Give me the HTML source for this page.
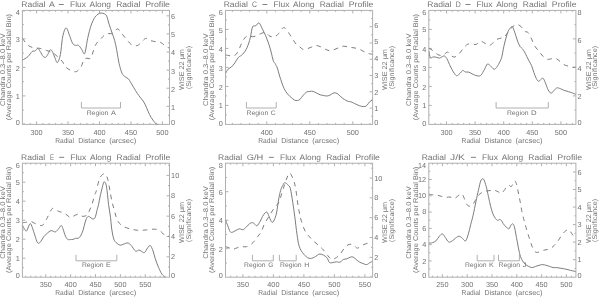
<!DOCTYPE html>
<html><head><meta charset="utf-8"><title>Radial Profiles</title>
<style>html,body{margin:0;padding:0;background:#fff;width:600px;height:297px;overflow:hidden}
text{font-family:"Liberation Sans",sans-serif;text-rendering:geometricPrecision}
svg{will-change:transform;transform:translateZ(0)}</style></head>
<body>
<svg width="600" height="297" viewBox="0 0 600 297" style="display:block;font-family:'Liberation Sans', sans-serif">
<rect width="600" height="297" fill="#fff"/>
<rect x="22.4" y="10.4" width="147.1" height="114" fill="none" stroke="#b0b0b0" stroke-width="1"/>
<line x1="24.02" y1="124.4" x2="24.02" y2="122.9" stroke="#b0b0b0" stroke-width="1"/>
<line x1="24.02" y1="10.4" x2="24.02" y2="11.9" stroke="#b0b0b0" stroke-width="1"/>
<line x1="30.31" y1="124.4" x2="30.31" y2="122.9" stroke="#b0b0b0" stroke-width="1"/>
<line x1="30.31" y1="10.4" x2="30.31" y2="11.9" stroke="#b0b0b0" stroke-width="1"/>
<line x1="36.6" y1="124.4" x2="36.6" y2="121.4" stroke="#b0b0b0" stroke-width="1"/>
<line x1="36.6" y1="10.4" x2="36.6" y2="13.4" stroke="#b0b0b0" stroke-width="1"/>
<line x1="42.89" y1="124.4" x2="42.89" y2="122.9" stroke="#b0b0b0" stroke-width="1"/>
<line x1="42.89" y1="10.4" x2="42.89" y2="11.9" stroke="#b0b0b0" stroke-width="1"/>
<line x1="49.18" y1="124.4" x2="49.18" y2="122.9" stroke="#b0b0b0" stroke-width="1"/>
<line x1="49.18" y1="10.4" x2="49.18" y2="11.9" stroke="#b0b0b0" stroke-width="1"/>
<line x1="55.47" y1="124.4" x2="55.47" y2="122.9" stroke="#b0b0b0" stroke-width="1"/>
<line x1="55.47" y1="10.4" x2="55.47" y2="11.9" stroke="#b0b0b0" stroke-width="1"/>
<line x1="61.76" y1="124.4" x2="61.76" y2="122.9" stroke="#b0b0b0" stroke-width="1"/>
<line x1="61.76" y1="10.4" x2="61.76" y2="11.9" stroke="#b0b0b0" stroke-width="1"/>
<line x1="68.05" y1="124.4" x2="68.05" y2="121.4" stroke="#b0b0b0" stroke-width="1"/>
<line x1="68.05" y1="10.4" x2="68.05" y2="13.4" stroke="#b0b0b0" stroke-width="1"/>
<line x1="74.34" y1="124.4" x2="74.34" y2="122.9" stroke="#b0b0b0" stroke-width="1"/>
<line x1="74.34" y1="10.4" x2="74.34" y2="11.9" stroke="#b0b0b0" stroke-width="1"/>
<line x1="80.63" y1="124.4" x2="80.63" y2="122.9" stroke="#b0b0b0" stroke-width="1"/>
<line x1="80.63" y1="10.4" x2="80.63" y2="11.9" stroke="#b0b0b0" stroke-width="1"/>
<line x1="86.92" y1="124.4" x2="86.92" y2="122.9" stroke="#b0b0b0" stroke-width="1"/>
<line x1="86.92" y1="10.4" x2="86.92" y2="11.9" stroke="#b0b0b0" stroke-width="1"/>
<line x1="93.21" y1="124.4" x2="93.21" y2="122.9" stroke="#b0b0b0" stroke-width="1"/>
<line x1="93.21" y1="10.4" x2="93.21" y2="11.9" stroke="#b0b0b0" stroke-width="1"/>
<line x1="99.5" y1="124.4" x2="99.5" y2="121.4" stroke="#b0b0b0" stroke-width="1"/>
<line x1="99.5" y1="10.4" x2="99.5" y2="13.4" stroke="#b0b0b0" stroke-width="1"/>
<line x1="105.79" y1="124.4" x2="105.79" y2="122.9" stroke="#b0b0b0" stroke-width="1"/>
<line x1="105.79" y1="10.4" x2="105.79" y2="11.9" stroke="#b0b0b0" stroke-width="1"/>
<line x1="112.08" y1="124.4" x2="112.08" y2="122.9" stroke="#b0b0b0" stroke-width="1"/>
<line x1="112.08" y1="10.4" x2="112.08" y2="11.9" stroke="#b0b0b0" stroke-width="1"/>
<line x1="118.37" y1="124.4" x2="118.37" y2="122.9" stroke="#b0b0b0" stroke-width="1"/>
<line x1="118.37" y1="10.4" x2="118.37" y2="11.9" stroke="#b0b0b0" stroke-width="1"/>
<line x1="124.66" y1="124.4" x2="124.66" y2="122.9" stroke="#b0b0b0" stroke-width="1"/>
<line x1="124.66" y1="10.4" x2="124.66" y2="11.9" stroke="#b0b0b0" stroke-width="1"/>
<line x1="130.95" y1="124.4" x2="130.95" y2="121.4" stroke="#b0b0b0" stroke-width="1"/>
<line x1="130.95" y1="10.4" x2="130.95" y2="13.4" stroke="#b0b0b0" stroke-width="1"/>
<line x1="137.24" y1="124.4" x2="137.24" y2="122.9" stroke="#b0b0b0" stroke-width="1"/>
<line x1="137.24" y1="10.4" x2="137.24" y2="11.9" stroke="#b0b0b0" stroke-width="1"/>
<line x1="143.53" y1="124.4" x2="143.53" y2="122.9" stroke="#b0b0b0" stroke-width="1"/>
<line x1="143.53" y1="10.4" x2="143.53" y2="11.9" stroke="#b0b0b0" stroke-width="1"/>
<line x1="149.82" y1="124.4" x2="149.82" y2="122.9" stroke="#b0b0b0" stroke-width="1"/>
<line x1="149.82" y1="10.4" x2="149.82" y2="11.9" stroke="#b0b0b0" stroke-width="1"/>
<line x1="156.11" y1="124.4" x2="156.11" y2="122.9" stroke="#b0b0b0" stroke-width="1"/>
<line x1="156.11" y1="10.4" x2="156.11" y2="11.9" stroke="#b0b0b0" stroke-width="1"/>
<line x1="162.4" y1="124.4" x2="162.4" y2="121.4" stroke="#b0b0b0" stroke-width="1"/>
<line x1="162.4" y1="10.4" x2="162.4" y2="13.4" stroke="#b0b0b0" stroke-width="1"/>
<text x="36.6" y="134.9" font-size="7.3" fill="#737373" text-anchor="middle">300</text>
<text x="68.05" y="134.9" font-size="7.3" fill="#737373" text-anchor="middle">350</text>
<text x="99.5" y="134.9" font-size="7.3" fill="#737373" text-anchor="middle">400</text>
<text x="130.95" y="134.9" font-size="7.3" fill="#737373" text-anchor="middle">450</text>
<text x="162.4" y="134.9" font-size="7.3" fill="#737373" text-anchor="middle">500</text>
<text x="19.8" y="15" font-size="7.3" fill="#737373" text-anchor="end">4</text>
<text x="19.8" y="42.4" font-size="7.3" fill="#737373" text-anchor="end">3</text>
<text x="19.8" y="70.6" font-size="7.3" fill="#737373" text-anchor="end">2</text>
<text x="19.8" y="98.7" font-size="7.3" fill="#737373" text-anchor="end">1</text>
<text x="19.8" y="125.3" font-size="7.3" fill="#737373" text-anchor="end">0</text>
<line x1="22.4" y1="110.15" x2="23.9" y2="110.15" stroke="#b0b0b0" stroke-width="1"/>
<line x1="22.4" y1="95.9" x2="25.4" y2="95.9" stroke="#b0b0b0" stroke-width="1"/>
<line x1="22.4" y1="81.65" x2="23.9" y2="81.65" stroke="#b0b0b0" stroke-width="1"/>
<line x1="22.4" y1="67.4" x2="25.4" y2="67.4" stroke="#b0b0b0" stroke-width="1"/>
<line x1="22.4" y1="53.15" x2="23.9" y2="53.15" stroke="#b0b0b0" stroke-width="1"/>
<line x1="22.4" y1="38.9" x2="25.4" y2="38.9" stroke="#b0b0b0" stroke-width="1"/>
<line x1="22.4" y1="24.65" x2="23.9" y2="24.65" stroke="#b0b0b0" stroke-width="1"/>
<text x="171.1" y="18.8" font-size="7.3" fill="#737373" text-anchor="start">6</text>
<text x="171.1" y="36.8" font-size="7.3" fill="#737373" text-anchor="start">5</text>
<text x="171.1" y="54.9" font-size="7.3" fill="#737373" text-anchor="start">4</text>
<text x="171.1" y="73.5" font-size="7.3" fill="#737373" text-anchor="start">3</text>
<text x="171.1" y="91.7" font-size="7.3" fill="#737373" text-anchor="start">2</text>
<text x="171.1" y="109.5" font-size="7.3" fill="#737373" text-anchor="start">1</text>
<text x="171.1" y="124.9" font-size="7.3" fill="#737373" text-anchor="start">0</text>
<line x1="169.5" y1="115.35" x2="168" y2="115.35" stroke="#b0b0b0" stroke-width="1"/>
<line x1="169.5" y1="106.3" x2="166.5" y2="106.3" stroke="#b0b0b0" stroke-width="1"/>
<line x1="169.5" y1="97.26" x2="168" y2="97.26" stroke="#b0b0b0" stroke-width="1"/>
<line x1="169.5" y1="88.21" x2="166.5" y2="88.21" stroke="#b0b0b0" stroke-width="1"/>
<line x1="169.5" y1="79.16" x2="168" y2="79.16" stroke="#b0b0b0" stroke-width="1"/>
<line x1="169.5" y1="70.11" x2="166.5" y2="70.11" stroke="#b0b0b0" stroke-width="1"/>
<line x1="169.5" y1="61.07" x2="168" y2="61.07" stroke="#b0b0b0" stroke-width="1"/>
<line x1="169.5" y1="52.02" x2="166.5" y2="52.02" stroke="#b0b0b0" stroke-width="1"/>
<line x1="169.5" y1="42.97" x2="168" y2="42.97" stroke="#b0b0b0" stroke-width="1"/>
<line x1="169.5" y1="33.92" x2="166.5" y2="33.92" stroke="#b0b0b0" stroke-width="1"/>
<line x1="169.5" y1="24.88" x2="168" y2="24.88" stroke="#b0b0b0" stroke-width="1"/>
<line x1="169.5" y1="15.83" x2="166.5" y2="15.83" stroke="#b0b0b0" stroke-width="1"/>
<text x="21.3" y="6.9" font-size="8" fill="#737373" text-anchor="start" textLength="24.2" lengthAdjust="spacingAndGlyphs">Radial</text>
<text x="48.9" y="6.9" font-size="8" fill="#737373" text-anchor="start" textLength="5.8" lengthAdjust="spacingAndGlyphs">A</text>
<rect x="58.9" y="4.05" width="4.9" height="0.9" fill="#737373"/>
<text x="70" y="6.9" font-size="8" fill="#737373" text-anchor="start" textLength="15.9" lengthAdjust="spacingAndGlyphs">Flux</text>
<text x="89.6" y="6.9" font-size="8" fill="#737373" text-anchor="start" textLength="21.4" lengthAdjust="spacingAndGlyphs">Along</text>
<text x="116.2" y="6.9" font-size="8" fill="#737373" text-anchor="start" textLength="24.1" lengthAdjust="spacingAndGlyphs">Radial</text>
<text x="145.2" y="6.9" font-size="8" fill="#737373" text-anchor="start" textLength="24.8" lengthAdjust="spacingAndGlyphs">Profile</text>
<text x="55.2" y="143" font-size="7.2" fill="#737373" text-anchor="start" textLength="18.8" lengthAdjust="spacingAndGlyphs">Radial</text>
<text x="78.2" y="143" font-size="7.2" fill="#737373" text-anchor="start" textLength="27.3" lengthAdjust="spacingAndGlyphs">Distance</text>
<text x="109.2" y="143" font-size="7.2" fill="#737373" text-anchor="start" textLength="27" lengthAdjust="spacingAndGlyphs">(arcsec)</text>
<text transform="translate(4.7 105.9) rotate(-90)" font-size="6.9" fill="#737373" textLength="72.5" lengthAdjust="spacingAndGlyphs">Chandra 0.3&#8211;8.0 keV</text>
<text transform="translate(11.1 120.2) rotate(-90)" font-size="6.9" fill="#737373" textLength="106.2" lengthAdjust="spacingAndGlyphs">(Average Counts per Radial Bin)</text>
<text transform="translate(184.1 90.1) rotate(-90)" font-size="6.9" fill="#737373" textLength="41" lengthAdjust="spacingAndGlyphs">WISE 22 &#956;m</text>
<text transform="translate(190.7 89.1) rotate(-90)" font-size="6.9" fill="#737373" textLength="43.1" lengthAdjust="spacingAndGlyphs">(Significance)</text>
<polyline points="81.4,102 81.4,108 120.5,108 120.5,102" fill="none" stroke="#b0b0b0" stroke-width="1"/>
<text x="86.7" y="114.6" font-size="6.6" fill="#737373" text-anchor="start" textLength="21.6" lengthAdjust="spacingAndGlyphs">Region</text>
<text x="110.9" y="114.6" font-size="6.6" fill="#737373" text-anchor="start" textLength="4.9" lengthAdjust="spacingAndGlyphs">A</text>
<g clip-path="url(#c00)">
<path d="M22.4,38.3C23.35,39.48 26.13,43.82 28.1,45.4C30.07,46.98 32.18,47.3 34.2,47.8C36.22,48.3 38.18,47.97 40.2,48.4C42.22,48.83 44.28,49.72 46.3,50.4C48.32,51.08 50.45,51.48 52.3,52.5C54.15,53.52 55.72,54.98 57.4,56.5C59.08,58.02 61.05,59.9 62.4,61.6C63.75,63.3 64.23,65.3 65.5,66.7C66.77,68.1 68.37,69.15 70,70C71.63,70.85 73.88,71.8 75.3,71.8C76.72,71.8 77.52,70.87 78.5,70C79.48,69.13 80.35,68.15 81.2,66.6C82.05,65.05 82.8,62.08 83.6,60.7C84.4,59.32 84.82,58.7 86,58.3C87.18,57.9 89.53,59.35 90.7,58.3C91.87,57.25 92.22,54.15 93,52C93.78,49.85 94.57,47.15 95.4,45.4C96.23,43.65 97.02,42.68 98,41.5C98.98,40.32 100.3,39.3 101.3,38.3C102.3,37.3 103.02,36.28 104,35.5C104.98,34.72 105.88,33.92 107.2,33.6C108.52,33.28 110.68,34.03 111.9,33.6C113.12,33.17 113.52,31.78 114.5,31C115.48,30.22 116.8,28.73 117.8,28.9C118.8,29.07 119.52,30.83 120.5,32C121.48,33.17 122.62,34.57 123.7,35.9C124.78,37.23 125.82,38.62 127,40C128.18,41.38 129.63,43.3 130.8,44.2C131.97,45.1 132.83,45.2 134,45.4C135.17,45.6 136.47,46.05 137.8,45.4C139.13,44.75 140.62,42.68 142,41.5C143.38,40.32 144.63,38.43 146.1,38.3C147.57,38.17 149.03,40.12 150.8,40.7C152.57,41.28 155.05,41.52 156.7,41.8C158.35,42.08 159.37,41.8 160.7,42.4C162.03,43 163.52,44.57 164.7,45.4C165.88,46.23 167,46.97 167.8,47.4C168.6,47.83 169.22,47.9 169.5,48" fill="none" stroke="#7c7c7c" stroke-width="1" stroke-linejoin="round" stroke-dasharray="4.6 4.6"/>
<path d="M22.4,60.2C23.35,59.58 26.48,57.95 28.1,56.5C29.72,55.05 30.92,52.43 32.1,51.5C33.28,50.57 34.25,51.42 35.2,50.9C36.15,50.38 36.97,48.3 37.8,48.4C38.63,48.5 39.3,50.15 40.2,51.5C41.1,52.85 42.25,55.57 43.2,56.5C44.15,57.43 45.05,57.6 45.9,57.1C46.75,56.6 47.57,54.72 48.3,53.5C49.03,52.28 49.63,50.13 50.3,49.8C50.97,49.47 51.55,50.22 52.3,51.5C53.05,52.78 53.95,55.65 54.8,57.5C55.65,59.35 56.47,63.1 57.4,62.6C58.33,62.1 59.57,58.55 60.4,54.5C61.23,50.45 61.65,42.52 62.4,38.3C63.15,34.08 64.15,30.82 64.9,29.2C65.65,27.58 66.13,27.58 66.9,28.6C67.67,29.62 68.55,32.83 69.5,35.3C70.45,37.77 71.58,41.72 72.6,43.4C73.62,45.08 74.6,45.07 75.6,45.4C76.6,45.73 77.58,44.73 78.6,45.4C79.62,46.07 80.68,48.05 81.7,49.4C82.72,50.75 83.7,55.35 84.7,53.5C85.7,51.65 86.68,42.85 87.7,38.3C88.72,33.75 89.78,29.4 90.8,26.2C91.82,23 93.1,20.62 93.8,19.1C94.5,17.58 94.3,17.93 95,17.1C95.7,16.27 96.98,14.77 98,14.1C99.02,13.43 100.08,13.17 101.1,13.1C102.12,13.03 103.17,13.2 104.1,13.7C105.03,14.2 105.87,14.35 106.7,16.1C107.53,17.85 108.18,21.33 109.1,24.2C110.02,27.07 111.28,30.62 112.2,33.3C113.12,35.98 113.87,37.62 114.6,40.3C115.33,42.98 115.97,46.12 116.6,49.4C117.23,52.68 117.85,57.12 118.4,60C118.95,62.88 119.28,64.47 119.9,66.7C120.52,68.93 121.25,71.73 122.1,73.4C122.95,75.07 123.95,75.78 125,76.7C126.05,77.62 127.47,77.97 128.4,78.9C129.33,79.83 129.68,80.82 130.6,82.3C131.52,83.78 132.78,85.95 133.9,87.8C135.02,89.65 136.18,91.73 137.3,93.4C138.42,95.07 139.48,96.32 140.6,97.8C141.72,99.28 143,100.63 144,102.3C145,103.97 145.68,105.77 146.6,107.8C147.52,109.83 148.45,112.45 149.5,114.5C150.55,116.55 151.78,118.53 152.9,120.1C154.02,121.67 155.28,123.18 156.2,123.9C157.12,124.62 158.03,124.32 158.4,124.4" fill="none" stroke="#7c7c7c" stroke-width="1" stroke-linejoin="round"/>
</g>
<clipPath id="c00"><rect x="22.4" y="10.4" width="147.1" height="114"/></clipPath>
<rect x="225.5" y="10.4" width="147.1" height="114" fill="none" stroke="#b0b0b0" stroke-width="1"/>
<line x1="232.4" y1="124.4" x2="232.4" y2="122.9" stroke="#b0b0b0" stroke-width="1"/>
<line x1="232.4" y1="10.4" x2="232.4" y2="11.9" stroke="#b0b0b0" stroke-width="1"/>
<line x1="241" y1="124.4" x2="241" y2="122.9" stroke="#b0b0b0" stroke-width="1"/>
<line x1="241" y1="10.4" x2="241" y2="11.9" stroke="#b0b0b0" stroke-width="1"/>
<line x1="249.6" y1="124.4" x2="249.6" y2="122.9" stroke="#b0b0b0" stroke-width="1"/>
<line x1="249.6" y1="10.4" x2="249.6" y2="11.9" stroke="#b0b0b0" stroke-width="1"/>
<line x1="258.2" y1="124.4" x2="258.2" y2="122.9" stroke="#b0b0b0" stroke-width="1"/>
<line x1="258.2" y1="10.4" x2="258.2" y2="11.9" stroke="#b0b0b0" stroke-width="1"/>
<line x1="266.8" y1="124.4" x2="266.8" y2="121.4" stroke="#b0b0b0" stroke-width="1"/>
<line x1="266.8" y1="10.4" x2="266.8" y2="13.4" stroke="#b0b0b0" stroke-width="1"/>
<line x1="275.4" y1="124.4" x2="275.4" y2="122.9" stroke="#b0b0b0" stroke-width="1"/>
<line x1="275.4" y1="10.4" x2="275.4" y2="11.9" stroke="#b0b0b0" stroke-width="1"/>
<line x1="284" y1="124.4" x2="284" y2="122.9" stroke="#b0b0b0" stroke-width="1"/>
<line x1="284" y1="10.4" x2="284" y2="11.9" stroke="#b0b0b0" stroke-width="1"/>
<line x1="292.6" y1="124.4" x2="292.6" y2="122.9" stroke="#b0b0b0" stroke-width="1"/>
<line x1="292.6" y1="10.4" x2="292.6" y2="11.9" stroke="#b0b0b0" stroke-width="1"/>
<line x1="301.2" y1="124.4" x2="301.2" y2="122.9" stroke="#b0b0b0" stroke-width="1"/>
<line x1="301.2" y1="10.4" x2="301.2" y2="11.9" stroke="#b0b0b0" stroke-width="1"/>
<line x1="309.8" y1="124.4" x2="309.8" y2="121.4" stroke="#b0b0b0" stroke-width="1"/>
<line x1="309.8" y1="10.4" x2="309.8" y2="13.4" stroke="#b0b0b0" stroke-width="1"/>
<line x1="318.4" y1="124.4" x2="318.4" y2="122.9" stroke="#b0b0b0" stroke-width="1"/>
<line x1="318.4" y1="10.4" x2="318.4" y2="11.9" stroke="#b0b0b0" stroke-width="1"/>
<line x1="327" y1="124.4" x2="327" y2="122.9" stroke="#b0b0b0" stroke-width="1"/>
<line x1="327" y1="10.4" x2="327" y2="11.9" stroke="#b0b0b0" stroke-width="1"/>
<line x1="335.6" y1="124.4" x2="335.6" y2="122.9" stroke="#b0b0b0" stroke-width="1"/>
<line x1="335.6" y1="10.4" x2="335.6" y2="11.9" stroke="#b0b0b0" stroke-width="1"/>
<line x1="344.2" y1="124.4" x2="344.2" y2="122.9" stroke="#b0b0b0" stroke-width="1"/>
<line x1="344.2" y1="10.4" x2="344.2" y2="11.9" stroke="#b0b0b0" stroke-width="1"/>
<line x1="352.8" y1="124.4" x2="352.8" y2="121.4" stroke="#b0b0b0" stroke-width="1"/>
<line x1="352.8" y1="10.4" x2="352.8" y2="13.4" stroke="#b0b0b0" stroke-width="1"/>
<line x1="361.4" y1="124.4" x2="361.4" y2="122.9" stroke="#b0b0b0" stroke-width="1"/>
<line x1="361.4" y1="10.4" x2="361.4" y2="11.9" stroke="#b0b0b0" stroke-width="1"/>
<line x1="370" y1="124.4" x2="370" y2="122.9" stroke="#b0b0b0" stroke-width="1"/>
<line x1="370" y1="10.4" x2="370" y2="11.9" stroke="#b0b0b0" stroke-width="1"/>
<text x="266.8" y="134.9" font-size="7.3" fill="#737373" text-anchor="middle">400</text>
<text x="309.8" y="134.9" font-size="7.3" fill="#737373" text-anchor="middle">450</text>
<text x="352.8" y="134.9" font-size="7.3" fill="#737373" text-anchor="middle">500</text>
<text x="222.9" y="15.2" font-size="7.3" fill="#737373" text-anchor="end">6</text>
<text x="222.9" y="32.7" font-size="7.3" fill="#737373" text-anchor="end">5</text>
<text x="222.9" y="51.9" font-size="7.3" fill="#737373" text-anchor="end">4</text>
<text x="222.9" y="70.7" font-size="7.3" fill="#737373" text-anchor="end">3</text>
<text x="222.9" y="89.5" font-size="7.3" fill="#737373" text-anchor="end">2</text>
<text x="222.9" y="108.4" font-size="7.3" fill="#737373" text-anchor="end">1</text>
<text x="222.9" y="125.5" font-size="7.3" fill="#737373" text-anchor="end">0</text>
<line x1="225.5" y1="114.9" x2="227" y2="114.9" stroke="#b0b0b0" stroke-width="1"/>
<line x1="225.5" y1="105.4" x2="228.5" y2="105.4" stroke="#b0b0b0" stroke-width="1"/>
<line x1="225.5" y1="95.9" x2="227" y2="95.9" stroke="#b0b0b0" stroke-width="1"/>
<line x1="225.5" y1="86.4" x2="228.5" y2="86.4" stroke="#b0b0b0" stroke-width="1"/>
<line x1="225.5" y1="76.9" x2="227" y2="76.9" stroke="#b0b0b0" stroke-width="1"/>
<line x1="225.5" y1="67.4" x2="228.5" y2="67.4" stroke="#b0b0b0" stroke-width="1"/>
<line x1="225.5" y1="57.9" x2="227" y2="57.9" stroke="#b0b0b0" stroke-width="1"/>
<line x1="225.5" y1="48.4" x2="228.5" y2="48.4" stroke="#b0b0b0" stroke-width="1"/>
<line x1="225.5" y1="38.9" x2="227" y2="38.9" stroke="#b0b0b0" stroke-width="1"/>
<line x1="225.5" y1="29.4" x2="228.5" y2="29.4" stroke="#b0b0b0" stroke-width="1"/>
<line x1="225.5" y1="19.9" x2="227" y2="19.9" stroke="#b0b0b0" stroke-width="1"/>
<text x="374.2" y="28.3" font-size="7.3" fill="#737373" text-anchor="start">6</text>
<text x="374.2" y="44.3" font-size="7.3" fill="#737373" text-anchor="start">5</text>
<text x="374.2" y="60.9" font-size="7.3" fill="#737373" text-anchor="start">4</text>
<text x="374.2" y="77.8" font-size="7.3" fill="#737373" text-anchor="start">3</text>
<text x="374.2" y="94.6" font-size="7.3" fill="#737373" text-anchor="start">2</text>
<text x="374.2" y="111.1" font-size="7.3" fill="#737373" text-anchor="start">1</text>
<text x="374.2" y="124.8" font-size="7.3" fill="#737373" text-anchor="start">0</text>
<line x1="372.6" y1="116.26" x2="371.1" y2="116.26" stroke="#b0b0b0" stroke-width="1"/>
<line x1="372.6" y1="108.11" x2="369.6" y2="108.11" stroke="#b0b0b0" stroke-width="1"/>
<line x1="372.6" y1="99.97" x2="371.1" y2="99.97" stroke="#b0b0b0" stroke-width="1"/>
<line x1="372.6" y1="91.83" x2="369.6" y2="91.83" stroke="#b0b0b0" stroke-width="1"/>
<line x1="372.6" y1="83.69" x2="371.1" y2="83.69" stroke="#b0b0b0" stroke-width="1"/>
<line x1="372.6" y1="75.54" x2="369.6" y2="75.54" stroke="#b0b0b0" stroke-width="1"/>
<line x1="372.6" y1="67.4" x2="371.1" y2="67.4" stroke="#b0b0b0" stroke-width="1"/>
<line x1="372.6" y1="59.26" x2="369.6" y2="59.26" stroke="#b0b0b0" stroke-width="1"/>
<line x1="372.6" y1="51.11" x2="371.1" y2="51.11" stroke="#b0b0b0" stroke-width="1"/>
<line x1="372.6" y1="42.97" x2="369.6" y2="42.97" stroke="#b0b0b0" stroke-width="1"/>
<line x1="372.6" y1="34.83" x2="371.1" y2="34.83" stroke="#b0b0b0" stroke-width="1"/>
<line x1="372.6" y1="26.69" x2="369.6" y2="26.69" stroke="#b0b0b0" stroke-width="1"/>
<line x1="372.6" y1="18.54" x2="371.1" y2="18.54" stroke="#b0b0b0" stroke-width="1"/>
<text x="223.7" y="6.9" font-size="8" fill="#737373" text-anchor="start" textLength="24.2" lengthAdjust="spacingAndGlyphs">Radial</text>
<text x="252" y="6.9" font-size="8" fill="#737373" text-anchor="start" textLength="5" lengthAdjust="spacingAndGlyphs">C</text>
<rect x="262.4" y="4.05" width="4.9" height="0.9" fill="#737373"/>
<text x="273.5" y="6.9" font-size="8" fill="#737373" text-anchor="start" textLength="15.9" lengthAdjust="spacingAndGlyphs">Flux</text>
<text x="293.1" y="6.9" font-size="8" fill="#737373" text-anchor="start" textLength="21.4" lengthAdjust="spacingAndGlyphs">Along</text>
<text x="319.7" y="6.9" font-size="8" fill="#737373" text-anchor="start" textLength="24.1" lengthAdjust="spacingAndGlyphs">Radial</text>
<text x="348.7" y="6.9" font-size="8" fill="#737373" text-anchor="start" textLength="24.8" lengthAdjust="spacingAndGlyphs">Profile</text>
<text x="258.3" y="143" font-size="7.2" fill="#737373" text-anchor="start" textLength="18.8" lengthAdjust="spacingAndGlyphs">Radial</text>
<text x="281.3" y="143" font-size="7.2" fill="#737373" text-anchor="start" textLength="27.3" lengthAdjust="spacingAndGlyphs">Distance</text>
<text x="312.3" y="143" font-size="7.2" fill="#737373" text-anchor="start" textLength="27" lengthAdjust="spacingAndGlyphs">(arcsec)</text>
<text transform="translate(207.8 105.9) rotate(-90)" font-size="6.9" fill="#737373" textLength="72.5" lengthAdjust="spacingAndGlyphs">Chandra 0.3&#8211;8.0 keV</text>
<text transform="translate(214.2 120.2) rotate(-90)" font-size="6.9" fill="#737373" textLength="106.2" lengthAdjust="spacingAndGlyphs">(Average Counts per Radial Bin)</text>
<text transform="translate(387.2 90.1) rotate(-90)" font-size="6.9" fill="#737373" textLength="41" lengthAdjust="spacingAndGlyphs">WISE 22 &#956;m</text>
<text transform="translate(393.8 89.1) rotate(-90)" font-size="6.9" fill="#737373" textLength="43.1" lengthAdjust="spacingAndGlyphs">(Significance)</text>
<polyline points="246.4,102 246.4,108 276.2,108 276.2,102" fill="none" stroke="#b0b0b0" stroke-width="1"/>
<text x="246.6" y="114.6" font-size="6.6" fill="#737373" text-anchor="start" textLength="21.6" lengthAdjust="spacingAndGlyphs">Region</text>
<text x="270.8" y="114.6" font-size="6.6" fill="#737373" text-anchor="start" textLength="4.9" lengthAdjust="spacingAndGlyphs">C</text>
<g clip-path="url(#c01)">
<path d="M225.5,54.9C226.35,55.05 229.02,55.73 230.6,55.8C232.18,55.87 233.72,56.1 235,55.3C236.28,54.5 237.2,53 238.3,51C239.4,49 240.5,45.5 241.6,43.3C242.7,41.1 243.82,39.08 244.9,37.8C245.98,36.52 246.83,35.78 248.1,35.6C249.37,35.42 251.03,36.7 252.5,36.7C253.97,36.7 255.43,36.15 256.9,35.6C258.37,35.05 259.85,33.9 261.3,33.4C262.75,32.9 264.15,32.12 265.6,32.6C267.05,33.08 268.53,35.62 270,36.3C271.47,36.98 272.93,37.18 274.4,36.7C275.87,36.22 277.3,34.92 278.8,33.4C280.3,31.88 281.95,27.95 283.4,27.6C284.85,27.25 286.08,29.6 287.5,31.3C288.92,33 290.43,35.62 291.9,37.8C293.37,39.98 295.02,42.93 296.3,44.4C297.58,45.87 298.53,45.8 299.6,46.6C300.67,47.4 301.47,48.83 302.7,49.2C303.93,49.57 305.55,49.15 307,48.8C308.45,48.45 309.93,47.65 311.4,47.1C312.87,46.55 314.33,45.58 315.8,45.5C317.27,45.42 318.73,46.05 320.2,46.6C321.67,47.15 323.13,48.13 324.6,48.8C326.07,49.47 327.55,50.42 329,50.6C330.45,50.78 331.67,50.38 333.3,49.9C334.93,49.42 337.15,48.32 338.8,47.7C340.45,47.08 341.55,46.3 343.2,46.2C344.85,46.1 347.07,46.85 348.7,47.1C350.33,47.35 351.37,47.42 353,47.7C354.63,47.98 356.85,48.25 358.5,48.8C360.15,49.35 361.43,50.27 362.9,51C364.37,51.73 365.73,52.65 367.3,53.2C368.87,53.75 371.47,54.12 372.3,54.3" fill="none" stroke="#7c7c7c" stroke-width="1" stroke-linejoin="round" stroke-dasharray="4.6 4.6"/>
<path d="M225.7,73.3C226.08,72.62 227.03,70.27 228,69.2C228.97,68.13 230.35,67.97 231.5,66.9C232.65,65.83 233.77,64.37 234.9,62.8C236.03,61.23 237,58.93 238.3,57.5C239.6,56.07 241.25,55.83 242.7,54.2C244.15,52.57 245.73,50.43 247,47.7C248.27,44.97 249.38,41.27 250.3,37.8C251.22,34.33 251.58,28.9 252.5,26.9C253.42,24.9 254.7,26.47 255.8,25.8C256.9,25.13 258,22.35 259.1,22.9C260.2,23.45 261.32,26.98 262.4,29.1C263.48,31.22 264.52,33.05 265.6,35.6C266.68,38.15 267.98,41.67 268.9,44.4C269.82,47.13 270.37,49.27 271.1,52C271.83,54.73 272.65,58.9 273.3,60.8C273.95,62.7 274.33,62.2 275,63.4C275.67,64.6 276.53,65.9 277.3,68C278.07,70.1 278.83,73.52 279.6,76C280.37,78.48 281.13,80.78 281.9,82.9C282.67,85.02 283.25,86.85 284.2,88.7C285.15,90.55 286.45,92.55 287.6,94C288.75,95.45 289.95,96.38 291.1,97.4C292.25,98.42 293.47,99.58 294.5,100.1C295.53,100.62 296.38,100.62 297.3,100.5C298.22,100.38 299.05,100.23 300,99.4C300.95,98.57 301.92,96.72 303,95.5C304.08,94.28 305.35,92.78 306.5,92.1C307.65,91.42 308.77,91.52 309.9,91.4C311.03,91.28 312.15,91.1 313.3,91.4C314.45,91.7 315.65,92.63 316.8,93.2C317.95,93.77 319.07,94.42 320.2,94.8C321.33,95.18 322.45,95.3 323.6,95.5C324.75,95.7 325.95,96.12 327.1,96C328.25,95.88 329.35,95.33 330.5,94.8C331.65,94.27 332.85,92.98 334,92.8C335.15,92.62 336.27,93.05 337.4,93.7C338.53,94.35 339.65,95.75 340.8,96.7C341.95,97.65 343.15,98.65 344.3,99.4C345.45,100.15 346.57,100.78 347.7,101.2C348.83,101.62 349.95,101.52 351.1,101.9C352.25,102.28 353.45,102.97 354.6,103.5C355.75,104.03 356.87,104.63 358,105.1C359.13,105.57 360.25,106.07 361.4,106.3C362.55,106.53 363.93,106.7 364.9,106.5C365.87,106.3 366.43,105.87 367.2,105.1C367.97,104.33 368.65,102.73 369.5,101.9C370.35,101.07 371.83,100.4 372.3,100.1" fill="none" stroke="#7c7c7c" stroke-width="1" stroke-linejoin="round"/>
</g>
<clipPath id="c01"><rect x="225.5" y="10.4" width="147.1" height="114"/></clipPath>
<rect x="428.8" y="10.4" width="147.1" height="114" fill="none" stroke="#b0b0b0" stroke-width="1"/>
<line x1="435.06" y1="124.4" x2="435.06" y2="122.9" stroke="#b0b0b0" stroke-width="1"/>
<line x1="435.06" y1="10.4" x2="435.06" y2="11.9" stroke="#b0b0b0" stroke-width="1"/>
<line x1="440.78" y1="124.4" x2="440.78" y2="122.9" stroke="#b0b0b0" stroke-width="1"/>
<line x1="440.78" y1="10.4" x2="440.78" y2="11.9" stroke="#b0b0b0" stroke-width="1"/>
<line x1="446.5" y1="124.4" x2="446.5" y2="121.4" stroke="#b0b0b0" stroke-width="1"/>
<line x1="446.5" y1="10.4" x2="446.5" y2="13.4" stroke="#b0b0b0" stroke-width="1"/>
<line x1="452.22" y1="124.4" x2="452.22" y2="122.9" stroke="#b0b0b0" stroke-width="1"/>
<line x1="452.22" y1="10.4" x2="452.22" y2="11.9" stroke="#b0b0b0" stroke-width="1"/>
<line x1="457.94" y1="124.4" x2="457.94" y2="122.9" stroke="#b0b0b0" stroke-width="1"/>
<line x1="457.94" y1="10.4" x2="457.94" y2="11.9" stroke="#b0b0b0" stroke-width="1"/>
<line x1="463.66" y1="124.4" x2="463.66" y2="122.9" stroke="#b0b0b0" stroke-width="1"/>
<line x1="463.66" y1="10.4" x2="463.66" y2="11.9" stroke="#b0b0b0" stroke-width="1"/>
<line x1="469.38" y1="124.4" x2="469.38" y2="122.9" stroke="#b0b0b0" stroke-width="1"/>
<line x1="469.38" y1="10.4" x2="469.38" y2="11.9" stroke="#b0b0b0" stroke-width="1"/>
<line x1="475.1" y1="124.4" x2="475.1" y2="121.4" stroke="#b0b0b0" stroke-width="1"/>
<line x1="475.1" y1="10.4" x2="475.1" y2="13.4" stroke="#b0b0b0" stroke-width="1"/>
<line x1="480.82" y1="124.4" x2="480.82" y2="122.9" stroke="#b0b0b0" stroke-width="1"/>
<line x1="480.82" y1="10.4" x2="480.82" y2="11.9" stroke="#b0b0b0" stroke-width="1"/>
<line x1="486.54" y1="124.4" x2="486.54" y2="122.9" stroke="#b0b0b0" stroke-width="1"/>
<line x1="486.54" y1="10.4" x2="486.54" y2="11.9" stroke="#b0b0b0" stroke-width="1"/>
<line x1="492.26" y1="124.4" x2="492.26" y2="122.9" stroke="#b0b0b0" stroke-width="1"/>
<line x1="492.26" y1="10.4" x2="492.26" y2="11.9" stroke="#b0b0b0" stroke-width="1"/>
<line x1="497.98" y1="124.4" x2="497.98" y2="122.9" stroke="#b0b0b0" stroke-width="1"/>
<line x1="497.98" y1="10.4" x2="497.98" y2="11.9" stroke="#b0b0b0" stroke-width="1"/>
<line x1="503.7" y1="124.4" x2="503.7" y2="121.4" stroke="#b0b0b0" stroke-width="1"/>
<line x1="503.7" y1="10.4" x2="503.7" y2="13.4" stroke="#b0b0b0" stroke-width="1"/>
<line x1="509.42" y1="124.4" x2="509.42" y2="122.9" stroke="#b0b0b0" stroke-width="1"/>
<line x1="509.42" y1="10.4" x2="509.42" y2="11.9" stroke="#b0b0b0" stroke-width="1"/>
<line x1="515.14" y1="124.4" x2="515.14" y2="122.9" stroke="#b0b0b0" stroke-width="1"/>
<line x1="515.14" y1="10.4" x2="515.14" y2="11.9" stroke="#b0b0b0" stroke-width="1"/>
<line x1="520.86" y1="124.4" x2="520.86" y2="122.9" stroke="#b0b0b0" stroke-width="1"/>
<line x1="520.86" y1="10.4" x2="520.86" y2="11.9" stroke="#b0b0b0" stroke-width="1"/>
<line x1="526.58" y1="124.4" x2="526.58" y2="122.9" stroke="#b0b0b0" stroke-width="1"/>
<line x1="526.58" y1="10.4" x2="526.58" y2="11.9" stroke="#b0b0b0" stroke-width="1"/>
<line x1="532.3" y1="124.4" x2="532.3" y2="121.4" stroke="#b0b0b0" stroke-width="1"/>
<line x1="532.3" y1="10.4" x2="532.3" y2="13.4" stroke="#b0b0b0" stroke-width="1"/>
<line x1="538.02" y1="124.4" x2="538.02" y2="122.9" stroke="#b0b0b0" stroke-width="1"/>
<line x1="538.02" y1="10.4" x2="538.02" y2="11.9" stroke="#b0b0b0" stroke-width="1"/>
<line x1="543.74" y1="124.4" x2="543.74" y2="122.9" stroke="#b0b0b0" stroke-width="1"/>
<line x1="543.74" y1="10.4" x2="543.74" y2="11.9" stroke="#b0b0b0" stroke-width="1"/>
<line x1="549.46" y1="124.4" x2="549.46" y2="122.9" stroke="#b0b0b0" stroke-width="1"/>
<line x1="549.46" y1="10.4" x2="549.46" y2="11.9" stroke="#b0b0b0" stroke-width="1"/>
<line x1="555.18" y1="124.4" x2="555.18" y2="122.9" stroke="#b0b0b0" stroke-width="1"/>
<line x1="555.18" y1="10.4" x2="555.18" y2="11.9" stroke="#b0b0b0" stroke-width="1"/>
<line x1="560.9" y1="124.4" x2="560.9" y2="121.4" stroke="#b0b0b0" stroke-width="1"/>
<line x1="560.9" y1="10.4" x2="560.9" y2="13.4" stroke="#b0b0b0" stroke-width="1"/>
<line x1="566.62" y1="124.4" x2="566.62" y2="122.9" stroke="#b0b0b0" stroke-width="1"/>
<line x1="566.62" y1="10.4" x2="566.62" y2="11.9" stroke="#b0b0b0" stroke-width="1"/>
<line x1="572.34" y1="124.4" x2="572.34" y2="122.9" stroke="#b0b0b0" stroke-width="1"/>
<line x1="572.34" y1="10.4" x2="572.34" y2="11.9" stroke="#b0b0b0" stroke-width="1"/>
<text x="446.5" y="134.9" font-size="7.3" fill="#737373" text-anchor="middle">300</text>
<text x="475.1" y="134.9" font-size="7.3" fill="#737373" text-anchor="middle">350</text>
<text x="503.7" y="134.9" font-size="7.3" fill="#737373" text-anchor="middle">400</text>
<text x="532.3" y="134.9" font-size="7.3" fill="#737373" text-anchor="middle">450</text>
<text x="560.9" y="134.9" font-size="7.3" fill="#737373" text-anchor="middle">500</text>
<text x="426.2" y="15.2" font-size="7.3" fill="#737373" text-anchor="end">6</text>
<text x="426.2" y="32.3" font-size="7.3" fill="#737373" text-anchor="end">5</text>
<text x="426.2" y="51.5" font-size="7.3" fill="#737373" text-anchor="end">4</text>
<text x="426.2" y="71" font-size="7.3" fill="#737373" text-anchor="end">3</text>
<text x="426.2" y="89.5" font-size="7.3" fill="#737373" text-anchor="end">2</text>
<text x="426.2" y="108.4" font-size="7.3" fill="#737373" text-anchor="end">1</text>
<text x="426.2" y="125.5" font-size="7.3" fill="#737373" text-anchor="end">0</text>
<line x1="428.8" y1="114.9" x2="430.3" y2="114.9" stroke="#b0b0b0" stroke-width="1"/>
<line x1="428.8" y1="105.4" x2="431.8" y2="105.4" stroke="#b0b0b0" stroke-width="1"/>
<line x1="428.8" y1="95.9" x2="430.3" y2="95.9" stroke="#b0b0b0" stroke-width="1"/>
<line x1="428.8" y1="86.4" x2="431.8" y2="86.4" stroke="#b0b0b0" stroke-width="1"/>
<line x1="428.8" y1="76.9" x2="430.3" y2="76.9" stroke="#b0b0b0" stroke-width="1"/>
<line x1="428.8" y1="67.4" x2="431.8" y2="67.4" stroke="#b0b0b0" stroke-width="1"/>
<line x1="428.8" y1="57.9" x2="430.3" y2="57.9" stroke="#b0b0b0" stroke-width="1"/>
<line x1="428.8" y1="48.4" x2="431.8" y2="48.4" stroke="#b0b0b0" stroke-width="1"/>
<line x1="428.8" y1="38.9" x2="430.3" y2="38.9" stroke="#b0b0b0" stroke-width="1"/>
<line x1="428.8" y1="29.4" x2="431.8" y2="29.4" stroke="#b0b0b0" stroke-width="1"/>
<line x1="428.8" y1="19.9" x2="430.3" y2="19.9" stroke="#b0b0b0" stroke-width="1"/>
<text x="577.5" y="15.2" font-size="7.3" fill="#737373" text-anchor="start">8</text>
<text x="577.5" y="42.7" font-size="7.3" fill="#737373" text-anchor="start">6</text>
<text x="577.5" y="70.7" font-size="7.3" fill="#737373" text-anchor="start">4</text>
<text x="577.5" y="99.1" font-size="7.3" fill="#737373" text-anchor="start">2</text>
<text x="577.5" y="124.8" font-size="7.3" fill="#737373" text-anchor="start">0</text>
<line x1="575.9" y1="110.15" x2="574.4" y2="110.15" stroke="#b0b0b0" stroke-width="1"/>
<line x1="575.9" y1="95.9" x2="572.9" y2="95.9" stroke="#b0b0b0" stroke-width="1"/>
<line x1="575.9" y1="81.65" x2="574.4" y2="81.65" stroke="#b0b0b0" stroke-width="1"/>
<line x1="575.9" y1="67.4" x2="572.9" y2="67.4" stroke="#b0b0b0" stroke-width="1"/>
<line x1="575.9" y1="53.15" x2="574.4" y2="53.15" stroke="#b0b0b0" stroke-width="1"/>
<line x1="575.9" y1="38.9" x2="572.9" y2="38.9" stroke="#b0b0b0" stroke-width="1"/>
<line x1="575.9" y1="24.65" x2="574.4" y2="24.65" stroke="#b0b0b0" stroke-width="1"/>
<text x="427.3" y="6.9" font-size="8" fill="#737373" text-anchor="start" textLength="24.2" lengthAdjust="spacingAndGlyphs">Radial</text>
<text x="455.7" y="6.9" font-size="8" fill="#737373" text-anchor="start" textLength="5" lengthAdjust="spacingAndGlyphs">D</text>
<rect x="465.5" y="4.05" width="4.9" height="0.9" fill="#737373"/>
<text x="476.6" y="6.9" font-size="8" fill="#737373" text-anchor="start" textLength="15.9" lengthAdjust="spacingAndGlyphs">Flux</text>
<text x="496.2" y="6.9" font-size="8" fill="#737373" text-anchor="start" textLength="21.4" lengthAdjust="spacingAndGlyphs">Along</text>
<text x="522.8" y="6.9" font-size="8" fill="#737373" text-anchor="start" textLength="24.1" lengthAdjust="spacingAndGlyphs">Radial</text>
<text x="551.8" y="6.9" font-size="8" fill="#737373" text-anchor="start" textLength="24.8" lengthAdjust="spacingAndGlyphs">Profile</text>
<text x="461.6" y="143" font-size="7.2" fill="#737373" text-anchor="start" textLength="18.8" lengthAdjust="spacingAndGlyphs">Radial</text>
<text x="484.6" y="143" font-size="7.2" fill="#737373" text-anchor="start" textLength="27.3" lengthAdjust="spacingAndGlyphs">Distance</text>
<text x="515.6" y="143" font-size="7.2" fill="#737373" text-anchor="start" textLength="27" lengthAdjust="spacingAndGlyphs">(arcsec)</text>
<text transform="translate(411.1 105.9) rotate(-90)" font-size="6.9" fill="#737373" textLength="72.5" lengthAdjust="spacingAndGlyphs">Chandra 0.3&#8211;8.0 keV</text>
<text transform="translate(417.5 120.2) rotate(-90)" font-size="6.9" fill="#737373" textLength="106.2" lengthAdjust="spacingAndGlyphs">(Average Counts per Radial Bin)</text>
<text transform="translate(590.5 90.1) rotate(-90)" font-size="6.9" fill="#737373" textLength="41" lengthAdjust="spacingAndGlyphs">WISE 22 &#956;m</text>
<text transform="translate(597.1 89.1) rotate(-90)" font-size="6.9" fill="#737373" textLength="43.1" lengthAdjust="spacingAndGlyphs">(Significance)</text>
<polyline points="496.1,102 496.1,108 548.3,108 548.3,102" fill="none" stroke="#b0b0b0" stroke-width="1"/>
<text x="506.9" y="114.6" font-size="6.6" fill="#737373" text-anchor="start" textLength="21.6" lengthAdjust="spacingAndGlyphs">Region</text>
<text x="531.1" y="114.6" font-size="6.6" fill="#737373" text-anchor="start" textLength="5.6" lengthAdjust="spacingAndGlyphs">D</text>
<g clip-path="url(#c02)">
<path d="M428.8,48.5C429.17,48.63 430.08,48.75 431,49.3C431.92,49.85 433.18,50.93 434.3,51.8C435.42,52.67 436.58,53.88 437.7,54.5C438.82,55.12 439.95,55.5 441,55.5C442.05,55.5 442.88,55.07 444,54.5C445.12,53.93 446.53,51.97 447.7,52.1C448.87,52.23 449.9,54.47 451,55.3C452.1,56.13 453.03,57.27 454.3,57.1C455.57,56.93 457.15,55.68 458.6,54.3C460.05,52.92 461.53,50.45 463,48.8C464.47,47.15 465.93,45.2 467.4,44.4C468.87,43.6 470.35,44 471.8,44C473.25,44 474.65,44.88 476.1,44.4C477.55,43.92 479.03,41.28 480.5,41.1C481.97,40.92 483.43,42.57 484.9,43.3C486.37,44.03 487.83,45.68 489.3,45.5C490.77,45.32 492.25,43.3 493.7,42.2C495.15,41.1 496.32,39.7 498,38.9C499.68,38.1 502.3,38.3 503.8,37.4C505.3,36.5 505.92,34.88 507,33.5C508.08,32.12 509.02,30.48 510.3,29.1C511.58,27.72 513.42,25.93 514.7,25.2C515.98,24.47 516.9,24.42 518,24.7C519.1,24.98 520.2,25.8 521.3,26.9C522.4,28 523.5,30.38 524.6,31.3C525.7,32.22 526.82,31.3 527.9,32.4C528.98,33.5 530.02,35.72 531.1,37.9C532.18,40.08 533.12,43.32 534.4,45.5C535.68,47.68 537.33,49.17 538.8,51C540.27,52.83 541.73,55.12 543.2,56.5C544.67,57.88 546.13,58.93 547.6,59.3C549.07,59.67 550.55,58.8 552,58.7C553.45,58.6 554.85,58.15 556.3,58.7C557.75,59.25 559.23,60.92 560.7,62C562.17,63.08 563.63,64.48 565.1,65.2C566.57,65.92 568.22,65.93 569.5,66.3C570.78,66.67 571.78,67.28 572.8,67.4C573.82,67.52 575.13,67.07 575.6,67" fill="none" stroke="#7c7c7c" stroke-width="1" stroke-linejoin="round" stroke-dasharray="4.6 4.6"/>
<path d="M428.8,51C429.07,52.12 429.62,56.72 430.4,57.7C431.18,58.68 432.43,56.95 433.5,56.9C434.57,56.85 435.82,57.2 436.8,57.4C437.78,57.6 438.55,58.18 439.4,58.1C440.25,58.02 441.07,57.25 441.9,56.9C442.73,56.55 443.57,55.72 444.4,56C445.23,56.28 446.05,57.18 446.9,58.6C447.75,60.02 448.65,62.68 449.5,64.5C450.35,66.32 451.17,67.97 452,69.5C452.83,71.03 453.72,72.67 454.5,73.7C455.28,74.73 456,75.55 456.7,75.7C457.4,75.85 457.95,75.22 458.7,74.6C459.45,73.98 460.5,72.7 461.2,72C461.9,71.3 462.18,70.4 462.9,70.4C463.62,70.4 464.55,71.72 465.5,72C466.45,72.28 467.52,71.8 468.6,72.1C469.68,72.4 470.87,73.25 472,73.8C473.13,74.35 474.25,75.03 475.4,75.4C476.55,75.77 477.93,76.08 478.9,76C479.87,75.92 480.25,76.03 481.2,74.9C482.15,73.77 483.58,71 484.6,69.2C485.62,67.4 486.35,64.68 487.3,64.1C488.25,63.52 489.22,64.85 490.3,65.7C491.38,66.55 492.83,68.82 493.8,69.2C494.77,69.58 495.33,68.77 496.1,68C496.87,67.23 497.48,66.33 498.4,64.6C499.32,62.87 500.7,60.6 501.6,57.6C502.5,54.6 503.07,49.88 503.8,46.6C504.53,43.32 505.28,40.45 506,37.9C506.72,35.35 507.38,32.95 508.1,31.3C508.82,29.65 509.63,28.8 510.3,28C510.97,27.2 511.55,26.32 512.1,26.5C512.65,26.68 512.98,27.57 513.6,29.1C514.22,30.63 515.07,33.52 515.8,35.7C516.53,37.88 517.27,40.38 518,42.2C518.73,44.02 519.47,45.5 520.2,46.6C520.93,47.7 521.67,47.88 522.4,48.8C523.13,49.72 523.87,50.82 524.6,52.1C525.33,53.38 526.07,55.03 526.8,56.5C527.53,57.97 528.2,59.37 529,60.9C529.8,62.43 530.78,63.75 531.6,65.7C532.42,67.65 533.13,70.5 533.9,72.6C534.67,74.7 535.43,76.85 536.2,78.3C536.97,79.75 537.73,81.1 538.5,81.3C539.27,81.5 540.03,80 540.8,79.5C541.57,79 542.33,77.73 543.1,78.3C543.87,78.87 544.57,80.98 545.4,82.9C546.23,84.82 547.15,88.08 548.1,89.8C549.05,91.52 550.1,93.1 551.1,93.2C552.1,93.3 553.15,91.28 554.1,90.4C555.05,89.52 555.78,88.2 556.8,87.9C557.82,87.6 559.05,88.22 560.2,88.6C561.35,88.98 562.35,89.7 563.7,90.2C565.05,90.7 566.97,91.18 568.3,91.6C569.63,92.02 570.48,92.25 571.7,92.7C572.92,93.15 574.95,94.03 575.6,94.3" fill="none" stroke="#7c7c7c" stroke-width="1" stroke-linejoin="round"/>
</g>
<clipPath id="c02"><rect x="428.8" y="10.4" width="147.1" height="114"/></clipPath>
<rect x="22.4" y="163.2" width="147.1" height="114" fill="none" stroke="#b0b0b0" stroke-width="1"/>
<line x1="25.85" y1="277.2" x2="25.85" y2="275.7" stroke="#b0b0b0" stroke-width="1"/>
<line x1="25.85" y1="163.2" x2="25.85" y2="164.7" stroke="#b0b0b0" stroke-width="1"/>
<line x1="30.82" y1="277.2" x2="30.82" y2="275.7" stroke="#b0b0b0" stroke-width="1"/>
<line x1="30.82" y1="163.2" x2="30.82" y2="164.7" stroke="#b0b0b0" stroke-width="1"/>
<line x1="35.8" y1="277.2" x2="35.8" y2="275.7" stroke="#b0b0b0" stroke-width="1"/>
<line x1="35.8" y1="163.2" x2="35.8" y2="164.7" stroke="#b0b0b0" stroke-width="1"/>
<line x1="40.77" y1="277.2" x2="40.77" y2="275.7" stroke="#b0b0b0" stroke-width="1"/>
<line x1="40.77" y1="163.2" x2="40.77" y2="164.7" stroke="#b0b0b0" stroke-width="1"/>
<line x1="45.75" y1="277.2" x2="45.75" y2="274.2" stroke="#b0b0b0" stroke-width="1"/>
<line x1="45.75" y1="163.2" x2="45.75" y2="166.2" stroke="#b0b0b0" stroke-width="1"/>
<line x1="50.73" y1="277.2" x2="50.73" y2="275.7" stroke="#b0b0b0" stroke-width="1"/>
<line x1="50.73" y1="163.2" x2="50.73" y2="164.7" stroke="#b0b0b0" stroke-width="1"/>
<line x1="55.7" y1="277.2" x2="55.7" y2="275.7" stroke="#b0b0b0" stroke-width="1"/>
<line x1="55.7" y1="163.2" x2="55.7" y2="164.7" stroke="#b0b0b0" stroke-width="1"/>
<line x1="60.67" y1="277.2" x2="60.67" y2="275.7" stroke="#b0b0b0" stroke-width="1"/>
<line x1="60.67" y1="163.2" x2="60.67" y2="164.7" stroke="#b0b0b0" stroke-width="1"/>
<line x1="65.65" y1="277.2" x2="65.65" y2="275.7" stroke="#b0b0b0" stroke-width="1"/>
<line x1="65.65" y1="163.2" x2="65.65" y2="164.7" stroke="#b0b0b0" stroke-width="1"/>
<line x1="70.62" y1="277.2" x2="70.62" y2="274.2" stroke="#b0b0b0" stroke-width="1"/>
<line x1="70.62" y1="163.2" x2="70.62" y2="166.2" stroke="#b0b0b0" stroke-width="1"/>
<line x1="75.6" y1="277.2" x2="75.6" y2="275.7" stroke="#b0b0b0" stroke-width="1"/>
<line x1="75.6" y1="163.2" x2="75.6" y2="164.7" stroke="#b0b0b0" stroke-width="1"/>
<line x1="80.58" y1="277.2" x2="80.58" y2="275.7" stroke="#b0b0b0" stroke-width="1"/>
<line x1="80.58" y1="163.2" x2="80.58" y2="164.7" stroke="#b0b0b0" stroke-width="1"/>
<line x1="85.55" y1="277.2" x2="85.55" y2="275.7" stroke="#b0b0b0" stroke-width="1"/>
<line x1="85.55" y1="163.2" x2="85.55" y2="164.7" stroke="#b0b0b0" stroke-width="1"/>
<line x1="90.53" y1="277.2" x2="90.53" y2="275.7" stroke="#b0b0b0" stroke-width="1"/>
<line x1="90.53" y1="163.2" x2="90.53" y2="164.7" stroke="#b0b0b0" stroke-width="1"/>
<line x1="95.5" y1="277.2" x2="95.5" y2="274.2" stroke="#b0b0b0" stroke-width="1"/>
<line x1="95.5" y1="163.2" x2="95.5" y2="166.2" stroke="#b0b0b0" stroke-width="1"/>
<line x1="100.47" y1="277.2" x2="100.47" y2="275.7" stroke="#b0b0b0" stroke-width="1"/>
<line x1="100.47" y1="163.2" x2="100.47" y2="164.7" stroke="#b0b0b0" stroke-width="1"/>
<line x1="105.45" y1="277.2" x2="105.45" y2="275.7" stroke="#b0b0b0" stroke-width="1"/>
<line x1="105.45" y1="163.2" x2="105.45" y2="164.7" stroke="#b0b0b0" stroke-width="1"/>
<line x1="110.42" y1="277.2" x2="110.42" y2="275.7" stroke="#b0b0b0" stroke-width="1"/>
<line x1="110.42" y1="163.2" x2="110.42" y2="164.7" stroke="#b0b0b0" stroke-width="1"/>
<line x1="115.4" y1="277.2" x2="115.4" y2="275.7" stroke="#b0b0b0" stroke-width="1"/>
<line x1="115.4" y1="163.2" x2="115.4" y2="164.7" stroke="#b0b0b0" stroke-width="1"/>
<line x1="120.38" y1="277.2" x2="120.38" y2="274.2" stroke="#b0b0b0" stroke-width="1"/>
<line x1="120.38" y1="163.2" x2="120.38" y2="166.2" stroke="#b0b0b0" stroke-width="1"/>
<line x1="125.35" y1="277.2" x2="125.35" y2="275.7" stroke="#b0b0b0" stroke-width="1"/>
<line x1="125.35" y1="163.2" x2="125.35" y2="164.7" stroke="#b0b0b0" stroke-width="1"/>
<line x1="130.32" y1="277.2" x2="130.32" y2="275.7" stroke="#b0b0b0" stroke-width="1"/>
<line x1="130.32" y1="163.2" x2="130.32" y2="164.7" stroke="#b0b0b0" stroke-width="1"/>
<line x1="135.3" y1="277.2" x2="135.3" y2="275.7" stroke="#b0b0b0" stroke-width="1"/>
<line x1="135.3" y1="163.2" x2="135.3" y2="164.7" stroke="#b0b0b0" stroke-width="1"/>
<line x1="140.28" y1="277.2" x2="140.28" y2="275.7" stroke="#b0b0b0" stroke-width="1"/>
<line x1="140.28" y1="163.2" x2="140.28" y2="164.7" stroke="#b0b0b0" stroke-width="1"/>
<line x1="145.25" y1="277.2" x2="145.25" y2="274.2" stroke="#b0b0b0" stroke-width="1"/>
<line x1="145.25" y1="163.2" x2="145.25" y2="166.2" stroke="#b0b0b0" stroke-width="1"/>
<line x1="150.22" y1="277.2" x2="150.22" y2="275.7" stroke="#b0b0b0" stroke-width="1"/>
<line x1="150.22" y1="163.2" x2="150.22" y2="164.7" stroke="#b0b0b0" stroke-width="1"/>
<line x1="155.2" y1="277.2" x2="155.2" y2="275.7" stroke="#b0b0b0" stroke-width="1"/>
<line x1="155.2" y1="163.2" x2="155.2" y2="164.7" stroke="#b0b0b0" stroke-width="1"/>
<line x1="160.18" y1="277.2" x2="160.18" y2="275.7" stroke="#b0b0b0" stroke-width="1"/>
<line x1="160.18" y1="163.2" x2="160.18" y2="164.7" stroke="#b0b0b0" stroke-width="1"/>
<line x1="165.15" y1="277.2" x2="165.15" y2="275.7" stroke="#b0b0b0" stroke-width="1"/>
<line x1="165.15" y1="163.2" x2="165.15" y2="164.7" stroke="#b0b0b0" stroke-width="1"/>
<text x="45.75" y="287.1" font-size="7.3" fill="#737373" text-anchor="middle">350</text>
<text x="70.62" y="287.1" font-size="7.3" fill="#737373" text-anchor="middle">400</text>
<text x="95.5" y="287.1" font-size="7.3" fill="#737373" text-anchor="middle">450</text>
<text x="120.38" y="287.1" font-size="7.3" fill="#737373" text-anchor="middle">500</text>
<text x="145.25" y="287.1" font-size="7.3" fill="#737373" text-anchor="middle">550</text>
<text x="19.8" y="167.7" font-size="7.3" fill="#737373" text-anchor="end">6</text>
<text x="19.8" y="185.1" font-size="7.3" fill="#737373" text-anchor="end">5</text>
<text x="19.8" y="203.9" font-size="7.3" fill="#737373" text-anchor="end">4</text>
<text x="19.8" y="223.1" font-size="7.3" fill="#737373" text-anchor="end">3</text>
<text x="19.8" y="242.1" font-size="7.3" fill="#737373" text-anchor="end">2</text>
<text x="19.8" y="260.6" font-size="7.3" fill="#737373" text-anchor="end">1</text>
<text x="19.8" y="277.5" font-size="7.3" fill="#737373" text-anchor="end">0</text>
<line x1="22.4" y1="267.7" x2="23.9" y2="267.7" stroke="#b0b0b0" stroke-width="1"/>
<line x1="22.4" y1="258.2" x2="25.4" y2="258.2" stroke="#b0b0b0" stroke-width="1"/>
<line x1="22.4" y1="248.7" x2="23.9" y2="248.7" stroke="#b0b0b0" stroke-width="1"/>
<line x1="22.4" y1="239.2" x2="25.4" y2="239.2" stroke="#b0b0b0" stroke-width="1"/>
<line x1="22.4" y1="229.7" x2="23.9" y2="229.7" stroke="#b0b0b0" stroke-width="1"/>
<line x1="22.4" y1="220.2" x2="25.4" y2="220.2" stroke="#b0b0b0" stroke-width="1"/>
<line x1="22.4" y1="210.7" x2="23.9" y2="210.7" stroke="#b0b0b0" stroke-width="1"/>
<line x1="22.4" y1="201.2" x2="25.4" y2="201.2" stroke="#b0b0b0" stroke-width="1"/>
<line x1="22.4" y1="191.7" x2="23.9" y2="191.7" stroke="#b0b0b0" stroke-width="1"/>
<line x1="22.4" y1="182.2" x2="25.4" y2="182.2" stroke="#b0b0b0" stroke-width="1"/>
<line x1="22.4" y1="172.7" x2="23.9" y2="172.7" stroke="#b0b0b0" stroke-width="1"/>
<text x="171.1" y="177.6" font-size="7.3" fill="#737373" text-anchor="start">10</text>
<text x="171.1" y="198.4" font-size="7.3" fill="#737373" text-anchor="start">8</text>
<text x="171.1" y="218.8" font-size="7.3" fill="#737373" text-anchor="start">6</text>
<text x="171.1" y="238.7" font-size="7.3" fill="#737373" text-anchor="start">4</text>
<text x="171.1" y="259.2" font-size="7.3" fill="#737373" text-anchor="start">2</text>
<text x="171.1" y="277.8" font-size="7.3" fill="#737373" text-anchor="start">0</text>
<line x1="169.5" y1="267.02" x2="168" y2="267.02" stroke="#b0b0b0" stroke-width="1"/>
<line x1="169.5" y1="256.84" x2="166.5" y2="256.84" stroke="#b0b0b0" stroke-width="1"/>
<line x1="169.5" y1="246.66" x2="168" y2="246.66" stroke="#b0b0b0" stroke-width="1"/>
<line x1="169.5" y1="236.49" x2="166.5" y2="236.49" stroke="#b0b0b0" stroke-width="1"/>
<line x1="169.5" y1="226.31" x2="168" y2="226.31" stroke="#b0b0b0" stroke-width="1"/>
<line x1="169.5" y1="216.13" x2="166.5" y2="216.13" stroke="#b0b0b0" stroke-width="1"/>
<line x1="169.5" y1="205.95" x2="168" y2="205.95" stroke="#b0b0b0" stroke-width="1"/>
<line x1="169.5" y1="195.77" x2="166.5" y2="195.77" stroke="#b0b0b0" stroke-width="1"/>
<line x1="169.5" y1="185.59" x2="168" y2="185.59" stroke="#b0b0b0" stroke-width="1"/>
<line x1="169.5" y1="175.41" x2="166.5" y2="175.41" stroke="#b0b0b0" stroke-width="1"/>
<line x1="169.5" y1="165.24" x2="168" y2="165.24" stroke="#b0b0b0" stroke-width="1"/>
<text x="21" y="159.7" font-size="8" fill="#737373" text-anchor="start" textLength="24.2" lengthAdjust="spacingAndGlyphs">Radial</text>
<text x="49.9" y="159.7" font-size="8" fill="#737373" text-anchor="start" textLength="4" lengthAdjust="spacingAndGlyphs">E</text>
<rect x="59.2" y="156.85" width="4.9" height="0.9" fill="#737373"/>
<text x="70.3" y="159.7" font-size="8" fill="#737373" text-anchor="start" textLength="15.9" lengthAdjust="spacingAndGlyphs">Flux</text>
<text x="89.9" y="159.7" font-size="8" fill="#737373" text-anchor="start" textLength="21.4" lengthAdjust="spacingAndGlyphs">Along</text>
<text x="116.5" y="159.7" font-size="8" fill="#737373" text-anchor="start" textLength="24.1" lengthAdjust="spacingAndGlyphs">Radial</text>
<text x="145.5" y="159.7" font-size="8" fill="#737373" text-anchor="start" textLength="24.8" lengthAdjust="spacingAndGlyphs">Profile</text>
<text x="55.2" y="295" font-size="7.2" fill="#737373" text-anchor="start" textLength="18.8" lengthAdjust="spacingAndGlyphs">Radial</text>
<text x="78.2" y="295" font-size="7.2" fill="#737373" text-anchor="start" textLength="27.3" lengthAdjust="spacingAndGlyphs">Distance</text>
<text x="109.2" y="295" font-size="7.2" fill="#737373" text-anchor="start" textLength="27" lengthAdjust="spacingAndGlyphs">(arcsec)</text>
<text transform="translate(4.7 258.7) rotate(-90)" font-size="6.9" fill="#737373" textLength="72.5" lengthAdjust="spacingAndGlyphs">Chandra 0.3&#8211;8.0 keV</text>
<text transform="translate(11.1 273) rotate(-90)" font-size="6.9" fill="#737373" textLength="106.2" lengthAdjust="spacingAndGlyphs">(Average Counts per Radial Bin)</text>
<text transform="translate(184.1 242.9) rotate(-90)" font-size="6.9" fill="#737373" textLength="41" lengthAdjust="spacingAndGlyphs">WISE 22 &#956;m</text>
<text transform="translate(190.7 241.9) rotate(-90)" font-size="6.9" fill="#737373" textLength="43.1" lengthAdjust="spacingAndGlyphs">(Significance)</text>
<polyline points="76,254.8 76,260.8 116.8,260.8 116.8,254.8" fill="none" stroke="#b0b0b0" stroke-width="1"/>
<text x="81.9" y="266.9" font-size="6.6" fill="#737373" text-anchor="start" textLength="21.6" lengthAdjust="spacingAndGlyphs">Region</text>
<text x="106.1" y="266.9" font-size="6.6" fill="#737373" text-anchor="start" textLength="4.6" lengthAdjust="spacingAndGlyphs">E</text>
<g clip-path="url(#c10)">
<path d="M22.5,222.7C23.2,222.62 25.3,222.4 26.7,222.2C28.1,222 29.5,221.28 30.9,221.5C32.3,221.72 33.55,222.83 35.1,223.5C36.65,224.17 38.8,225.35 40.2,225.5C41.6,225.65 42.38,225.57 43.5,224.4C44.62,223.23 45.63,220.88 46.9,218.5C48.17,216.12 49.98,211.78 51.1,210.1C52.22,208.42 52.33,208.18 53.6,208.4C54.87,208.62 57.15,210.7 58.7,211.4C60.25,212.1 61.5,211.98 62.9,212.6C64.3,213.22 65.85,214.27 67.1,215.1C68.35,215.93 69.28,217.45 70.4,217.6C71.52,217.75 72.53,216.55 73.8,216C75.07,215.45 76.6,214.25 78,214.3C79.4,214.35 80.8,216.1 82.2,216.3C83.6,216.5 85.28,216.25 86.4,215.5C87.52,214.75 87.92,213.82 88.9,211.8C89.88,209.78 91.37,206.12 92.3,203.4C93.23,200.68 93.82,197.63 94.5,195.5C95.18,193.37 95.63,193.22 96.4,190.6C97.17,187.98 98.25,182.32 99.1,179.8C99.95,177.28 100.7,176.5 101.5,175.5C102.3,174.5 103.15,173.88 103.9,173.8C104.65,173.72 105.33,174 106,175C106.67,176 107.25,177.2 107.9,179.8C108.55,182.4 109.23,187 109.9,190.6C110.57,194.2 111.22,198.33 111.9,201.4C112.58,204.47 113.33,206.55 114,209C114.67,211.45 115.22,214 115.9,216.1C116.58,218.2 117,219.97 118.1,221.6C119.2,223.23 120.67,224.73 122.5,225.9C124.33,227.07 126.55,227.87 129.1,228.6C131.65,229.33 134.88,230.08 137.8,230.3C140.72,230.52 143.68,230.08 146.6,229.9C149.52,229.72 152.93,228.95 155.3,229.2C157.67,229.45 159.15,230.3 160.8,231.4C162.45,232.5 163.75,234.98 165.2,235.8C166.65,236.62 168.78,236.22 169.5,236.3" fill="none" stroke="#7c7c7c" stroke-width="1" stroke-linejoin="round" stroke-dasharray="4.6 4.6"/>
<path d="M22.5,225.2C22.78,225.77 23.55,227.62 24.2,228.6C24.85,229.58 25.7,231.38 26.4,231.1C27.1,230.82 27.78,228.17 28.4,226.9C29.02,225.63 29.53,223.63 30.1,223.5C30.67,223.37 31.1,224.42 31.8,226.1C32.5,227.78 33.47,231.08 34.3,233.6C35.13,236.12 36.1,239.57 36.8,241.2C37.5,242.83 37.8,243.4 38.5,243.4C39.2,243.4 40.17,242.27 41,241.2C41.83,240.13 42.52,238.27 43.5,237C44.48,235.73 45.63,234.67 46.9,233.6C48.17,232.53 49.7,230.88 51.1,230.6C52.5,230.32 54.03,232.23 55.3,231.9C56.57,231.57 57.72,229.67 58.7,228.6C59.68,227.53 60.5,225.5 61.2,225.5C61.9,225.5 62.2,226.83 62.9,228.6C63.6,230.37 64.57,234.28 65.4,236.1C66.23,237.92 67.07,238.93 67.9,239.5C68.73,240.07 69.57,239.5 70.4,239.5C71.23,239.5 72.05,239.7 72.9,239.5C73.75,239.3 74.65,238.5 75.5,238.3C76.35,238.1 77.17,238.67 78,238.3C78.83,237.93 79.67,237.43 80.5,236.1C81.33,234.77 82.17,232.82 83,230.3C83.83,227.78 84.73,223.25 85.5,221C86.27,218.75 86.9,217.5 87.6,216.8C88.3,216.1 88.92,216.47 89.7,216.8C90.48,217.13 91.42,218.63 92.3,218.8C93.18,218.97 94.18,219.35 95,217.8C95.82,216.25 96.62,211.68 97.2,209.5C97.78,207.32 98.03,206.78 98.5,204.7C98.97,202.62 99.55,199.13 100,197C100.45,194.87 100.67,194.08 101.2,191.9C101.73,189.72 102.72,185.58 103.2,183.9C103.68,182.22 103.65,181.8 104.1,181.8C104.55,181.8 105.38,182.22 105.9,183.9C106.42,185.58 106.75,188.43 107.2,191.9C107.65,195.37 108.05,200.48 108.6,204.7C109.15,208.92 110,213.3 110.5,217.2C111,221.1 111.05,224.45 111.6,228.1C112.15,231.75 112.9,236.55 113.8,239.1C114.7,241.65 115.92,242.38 117,243.4C118.08,244.42 119.2,245.08 120.3,245.2C121.4,245.32 122.32,244.47 123.6,244.1C124.88,243.73 126.72,242.75 128,243C129.28,243.25 130.03,244.25 131.3,245.6C132.57,246.95 134.33,250.37 135.6,251.1C136.87,251.83 137.98,250 138.9,250C139.82,250 140.18,250.67 141.1,251.1C142.02,251.53 143.3,253.15 144.4,252.6C145.5,252.05 146.72,248.97 147.7,247.8C148.68,246.63 149.4,245.05 150.3,245.6C151.2,246.15 152.27,248.9 153.1,251.1C153.93,253.3 154.38,256.07 155.3,258.8C156.22,261.53 157.5,264.95 158.6,267.5C159.7,270.05 160.8,272.45 161.9,274.1C163,275.75 164.65,276.85 165.2,277.4" fill="none" stroke="#7c7c7c" stroke-width="1" stroke-linejoin="round"/>
</g>
<clipPath id="c10"><rect x="22.4" y="163.2" width="147.1" height="114"/></clipPath>
<rect x="225.5" y="163.2" width="147.1" height="114" fill="none" stroke="#b0b0b0" stroke-width="1"/>
<line x1="230.7" y1="277.2" x2="230.7" y2="275.7" stroke="#b0b0b0" stroke-width="1"/>
<line x1="230.7" y1="163.2" x2="230.7" y2="164.7" stroke="#b0b0b0" stroke-width="1"/>
<line x1="236.8" y1="277.2" x2="236.8" y2="275.7" stroke="#b0b0b0" stroke-width="1"/>
<line x1="236.8" y1="163.2" x2="236.8" y2="164.7" stroke="#b0b0b0" stroke-width="1"/>
<line x1="242.9" y1="277.2" x2="242.9" y2="274.2" stroke="#b0b0b0" stroke-width="1"/>
<line x1="242.9" y1="163.2" x2="242.9" y2="166.2" stroke="#b0b0b0" stroke-width="1"/>
<line x1="249" y1="277.2" x2="249" y2="275.7" stroke="#b0b0b0" stroke-width="1"/>
<line x1="249" y1="163.2" x2="249" y2="164.7" stroke="#b0b0b0" stroke-width="1"/>
<line x1="255.1" y1="277.2" x2="255.1" y2="275.7" stroke="#b0b0b0" stroke-width="1"/>
<line x1="255.1" y1="163.2" x2="255.1" y2="164.7" stroke="#b0b0b0" stroke-width="1"/>
<line x1="261.2" y1="277.2" x2="261.2" y2="275.7" stroke="#b0b0b0" stroke-width="1"/>
<line x1="261.2" y1="163.2" x2="261.2" y2="164.7" stroke="#b0b0b0" stroke-width="1"/>
<line x1="267.3" y1="277.2" x2="267.3" y2="275.7" stroke="#b0b0b0" stroke-width="1"/>
<line x1="267.3" y1="163.2" x2="267.3" y2="164.7" stroke="#b0b0b0" stroke-width="1"/>
<line x1="273.4" y1="277.2" x2="273.4" y2="274.2" stroke="#b0b0b0" stroke-width="1"/>
<line x1="273.4" y1="163.2" x2="273.4" y2="166.2" stroke="#b0b0b0" stroke-width="1"/>
<line x1="279.5" y1="277.2" x2="279.5" y2="275.7" stroke="#b0b0b0" stroke-width="1"/>
<line x1="279.5" y1="163.2" x2="279.5" y2="164.7" stroke="#b0b0b0" stroke-width="1"/>
<line x1="285.6" y1="277.2" x2="285.6" y2="275.7" stroke="#b0b0b0" stroke-width="1"/>
<line x1="285.6" y1="163.2" x2="285.6" y2="164.7" stroke="#b0b0b0" stroke-width="1"/>
<line x1="291.7" y1="277.2" x2="291.7" y2="275.7" stroke="#b0b0b0" stroke-width="1"/>
<line x1="291.7" y1="163.2" x2="291.7" y2="164.7" stroke="#b0b0b0" stroke-width="1"/>
<line x1="297.8" y1="277.2" x2="297.8" y2="275.7" stroke="#b0b0b0" stroke-width="1"/>
<line x1="297.8" y1="163.2" x2="297.8" y2="164.7" stroke="#b0b0b0" stroke-width="1"/>
<line x1="303.9" y1="277.2" x2="303.9" y2="274.2" stroke="#b0b0b0" stroke-width="1"/>
<line x1="303.9" y1="163.2" x2="303.9" y2="166.2" stroke="#b0b0b0" stroke-width="1"/>
<line x1="310" y1="277.2" x2="310" y2="275.7" stroke="#b0b0b0" stroke-width="1"/>
<line x1="310" y1="163.2" x2="310" y2="164.7" stroke="#b0b0b0" stroke-width="1"/>
<line x1="316.1" y1="277.2" x2="316.1" y2="275.7" stroke="#b0b0b0" stroke-width="1"/>
<line x1="316.1" y1="163.2" x2="316.1" y2="164.7" stroke="#b0b0b0" stroke-width="1"/>
<line x1="322.2" y1="277.2" x2="322.2" y2="275.7" stroke="#b0b0b0" stroke-width="1"/>
<line x1="322.2" y1="163.2" x2="322.2" y2="164.7" stroke="#b0b0b0" stroke-width="1"/>
<line x1="328.3" y1="277.2" x2="328.3" y2="275.7" stroke="#b0b0b0" stroke-width="1"/>
<line x1="328.3" y1="163.2" x2="328.3" y2="164.7" stroke="#b0b0b0" stroke-width="1"/>
<line x1="334.4" y1="277.2" x2="334.4" y2="274.2" stroke="#b0b0b0" stroke-width="1"/>
<line x1="334.4" y1="163.2" x2="334.4" y2="166.2" stroke="#b0b0b0" stroke-width="1"/>
<line x1="340.5" y1="277.2" x2="340.5" y2="275.7" stroke="#b0b0b0" stroke-width="1"/>
<line x1="340.5" y1="163.2" x2="340.5" y2="164.7" stroke="#b0b0b0" stroke-width="1"/>
<line x1="346.6" y1="277.2" x2="346.6" y2="275.7" stroke="#b0b0b0" stroke-width="1"/>
<line x1="346.6" y1="163.2" x2="346.6" y2="164.7" stroke="#b0b0b0" stroke-width="1"/>
<line x1="352.7" y1="277.2" x2="352.7" y2="275.7" stroke="#b0b0b0" stroke-width="1"/>
<line x1="352.7" y1="163.2" x2="352.7" y2="164.7" stroke="#b0b0b0" stroke-width="1"/>
<line x1="358.8" y1="277.2" x2="358.8" y2="275.7" stroke="#b0b0b0" stroke-width="1"/>
<line x1="358.8" y1="163.2" x2="358.8" y2="164.7" stroke="#b0b0b0" stroke-width="1"/>
<line x1="364.9" y1="277.2" x2="364.9" y2="274.2" stroke="#b0b0b0" stroke-width="1"/>
<line x1="364.9" y1="163.2" x2="364.9" y2="166.2" stroke="#b0b0b0" stroke-width="1"/>
<line x1="371" y1="277.2" x2="371" y2="275.7" stroke="#b0b0b0" stroke-width="1"/>
<line x1="371" y1="163.2" x2="371" y2="164.7" stroke="#b0b0b0" stroke-width="1"/>
<text x="242.9" y="287.1" font-size="7.3" fill="#737373" text-anchor="middle">350</text>
<text x="273.4" y="287.1" font-size="7.3" fill="#737373" text-anchor="middle">400</text>
<text x="303.9" y="287.1" font-size="7.3" fill="#737373" text-anchor="middle">450</text>
<text x="334.4" y="287.1" font-size="7.3" fill="#737373" text-anchor="middle">500</text>
<text x="364.9" y="287.1" font-size="7.3" fill="#737373" text-anchor="middle">550</text>
<text x="222.9" y="168.2" font-size="7.3" fill="#737373" text-anchor="end">8</text>
<text x="222.9" y="194.5" font-size="7.3" fill="#737373" text-anchor="end">6</text>
<text x="222.9" y="222.9" font-size="7.3" fill="#737373" text-anchor="end">4</text>
<text x="222.9" y="251.5" font-size="7.3" fill="#737373" text-anchor="end">2</text>
<text x="222.9" y="277.7" font-size="7.3" fill="#737373" text-anchor="end">0</text>
<line x1="225.5" y1="262.95" x2="227" y2="262.95" stroke="#b0b0b0" stroke-width="1"/>
<line x1="225.5" y1="248.7" x2="228.5" y2="248.7" stroke="#b0b0b0" stroke-width="1"/>
<line x1="225.5" y1="234.45" x2="227" y2="234.45" stroke="#b0b0b0" stroke-width="1"/>
<line x1="225.5" y1="220.2" x2="228.5" y2="220.2" stroke="#b0b0b0" stroke-width="1"/>
<line x1="225.5" y1="205.95" x2="227" y2="205.95" stroke="#b0b0b0" stroke-width="1"/>
<line x1="225.5" y1="191.7" x2="228.5" y2="191.7" stroke="#b0b0b0" stroke-width="1"/>
<line x1="225.5" y1="177.45" x2="227" y2="177.45" stroke="#b0b0b0" stroke-width="1"/>
<text x="374.2" y="180.6" font-size="7.3" fill="#737373" text-anchor="start">10</text>
<text x="374.2" y="200.4" font-size="7.3" fill="#737373" text-anchor="start">8</text>
<text x="374.2" y="219.9" font-size="7.3" fill="#737373" text-anchor="start">6</text>
<text x="374.2" y="239.9" font-size="7.3" fill="#737373" text-anchor="start">4</text>
<text x="374.2" y="259.6" font-size="7.3" fill="#737373" text-anchor="start">2</text>
<text x="374.2" y="277.8" font-size="7.3" fill="#737373" text-anchor="start">0</text>
<line x1="372.6" y1="267.29" x2="371.1" y2="267.29" stroke="#b0b0b0" stroke-width="1"/>
<line x1="372.6" y1="257.37" x2="369.6" y2="257.37" stroke="#b0b0b0" stroke-width="1"/>
<line x1="372.6" y1="247.46" x2="371.1" y2="247.46" stroke="#b0b0b0" stroke-width="1"/>
<line x1="372.6" y1="237.55" x2="369.6" y2="237.55" stroke="#b0b0b0" stroke-width="1"/>
<line x1="372.6" y1="227.63" x2="371.1" y2="227.63" stroke="#b0b0b0" stroke-width="1"/>
<line x1="372.6" y1="217.72" x2="369.6" y2="217.72" stroke="#b0b0b0" stroke-width="1"/>
<line x1="372.6" y1="207.81" x2="371.1" y2="207.81" stroke="#b0b0b0" stroke-width="1"/>
<line x1="372.6" y1="197.9" x2="369.6" y2="197.9" stroke="#b0b0b0" stroke-width="1"/>
<line x1="372.6" y1="187.98" x2="371.1" y2="187.98" stroke="#b0b0b0" stroke-width="1"/>
<line x1="372.6" y1="178.07" x2="369.6" y2="178.07" stroke="#b0b0b0" stroke-width="1"/>
<line x1="372.6" y1="168.16" x2="371.1" y2="168.16" stroke="#b0b0b0" stroke-width="1"/>
<text x="218" y="159.7" font-size="8" fill="#737373" text-anchor="start" textLength="24.2" lengthAdjust="spacingAndGlyphs">Radial</text>
<text x="246.7" y="159.7" font-size="8" fill="#737373" text-anchor="start" textLength="16.6" lengthAdjust="spacingAndGlyphs">G/H</text>
<rect x="268.9" y="156.85" width="4.9" height="0.9" fill="#737373"/>
<text x="280" y="159.7" font-size="8" fill="#737373" text-anchor="start" textLength="15.9" lengthAdjust="spacingAndGlyphs">Flux</text>
<text x="299.6" y="159.7" font-size="8" fill="#737373" text-anchor="start" textLength="21.4" lengthAdjust="spacingAndGlyphs">Along</text>
<text x="326.2" y="159.7" font-size="8" fill="#737373" text-anchor="start" textLength="24.1" lengthAdjust="spacingAndGlyphs">Radial</text>
<text x="355.2" y="159.7" font-size="8" fill="#737373" text-anchor="start" textLength="24.8" lengthAdjust="spacingAndGlyphs">Profile</text>
<text x="258.3" y="295" font-size="7.2" fill="#737373" text-anchor="start" textLength="18.8" lengthAdjust="spacingAndGlyphs">Radial</text>
<text x="281.3" y="295" font-size="7.2" fill="#737373" text-anchor="start" textLength="27.3" lengthAdjust="spacingAndGlyphs">Distance</text>
<text x="312.3" y="295" font-size="7.2" fill="#737373" text-anchor="start" textLength="27" lengthAdjust="spacingAndGlyphs">(arcsec)</text>
<text transform="translate(207.8 258.7) rotate(-90)" font-size="6.9" fill="#737373" textLength="72.5" lengthAdjust="spacingAndGlyphs">Chandra 0.3&#8211;8.0 keV</text>
<text transform="translate(214.2 273) rotate(-90)" font-size="6.9" fill="#737373" textLength="106.2" lengthAdjust="spacingAndGlyphs">(Average Counts per Radial Bin)</text>
<text transform="translate(387.2 242.9) rotate(-90)" font-size="6.9" fill="#737373" textLength="41" lengthAdjust="spacingAndGlyphs">WISE 22 &#956;m</text>
<text transform="translate(393.8 241.9) rotate(-90)" font-size="6.9" fill="#737373" textLength="43.1" lengthAdjust="spacingAndGlyphs">(Significance)</text>
<polyline points="252.4,254.8 252.4,260.8 273.3,260.8 273.3,254.8" fill="none" stroke="#b0b0b0" stroke-width="1"/>
<polyline points="279.4,254.8 279.4,260.8 296.2,260.8 296.2,254.8" fill="none" stroke="#b0b0b0" stroke-width="1"/>
<text x="244" y="266.9" font-size="6.6" fill="#737373" text-anchor="start" textLength="21.6" lengthAdjust="spacingAndGlyphs">Region</text>
<text x="268.2" y="266.9" font-size="6.6" fill="#737373" text-anchor="start" textLength="5.1" lengthAdjust="spacingAndGlyphs">G</text>
<text x="280" y="266.9" font-size="6.6" fill="#737373" text-anchor="start" textLength="21.6" lengthAdjust="spacingAndGlyphs">Region</text>
<text x="304.2" y="266.9" font-size="6.6" fill="#737373" text-anchor="start" textLength="5.1" lengthAdjust="spacingAndGlyphs">H</text>
<g clip-path="url(#c11)">
<path d="M225.5,246.7C226.08,246.88 227.85,247.33 229,247.8C230.15,248.27 231.05,249.5 232.4,249.5C233.75,249.5 235.55,248.27 237.1,247.8C238.65,247.33 240.15,246.88 241.7,246.7C243.25,246.52 244.85,247.08 246.4,246.7C247.95,246.32 249.65,245.37 251,244.4C252.35,243.43 253.33,242.27 254.5,240.9C255.67,239.53 256.85,237.75 258,236.2C259.15,234.65 260.33,233.65 261.4,231.6C262.47,229.55 263.3,226.17 264.4,223.9C265.5,221.63 266.82,219.97 268,218C269.18,216.03 270.33,213.93 271.5,212.1C272.67,210.27 273.82,208.57 275,207C276.18,205.43 277.6,204.53 278.6,202.7C279.6,200.87 280.22,198.35 281,196C281.78,193.65 282.38,191.43 283.3,188.6C284.22,185.77 285.52,181.55 286.5,179C287.48,176.45 288.45,174.05 289.2,173.3C289.95,172.55 290.2,173.13 291,174.5C291.8,175.87 293.18,178.92 294,181.5C294.82,184.08 295.22,185.92 295.9,190C296.58,194.08 297.5,202.17 298.1,206C298.7,209.83 298.95,210.47 299.5,213C300.05,215.53 300.37,218.02 301.4,221.2C302.43,224.38 303.7,228.82 305.7,232.1C307.7,235.38 310.67,238.17 313.4,240.9C316.13,243.63 319.7,246.05 322.1,248.5C324.5,250.95 326.23,253.8 327.8,255.6C329.37,257.4 330.27,258.85 331.5,259.3C332.73,259.75 333.82,259.08 335.2,258.3C336.58,257.52 338.27,256.3 339.8,254.6C341.33,252.9 342.85,249.8 344.4,248.1C345.95,246.4 347.55,244.85 349.1,244.4C350.65,243.95 352.32,244.78 353.7,245.4C355.08,246.02 356.02,248.1 357.4,248.1C358.78,248.1 360.45,246.17 362,245.4C363.55,244.63 365.47,243.88 366.7,243.5C367.93,243.12 368.47,243.27 369.4,243.1C370.33,242.93 371.82,242.6 372.3,242.5" fill="none" stroke="#7c7c7c" stroke-width="1" stroke-linejoin="round" stroke-dasharray="4.6 4.6"/>
<path d="M225.5,220C225.88,220.97 227.03,223.87 227.8,225.8C228.57,227.73 229.33,230.52 230.1,231.6C230.87,232.68 231.43,232.5 232.4,232.3C233.37,232.1 234.73,230.98 235.9,230.4C237.07,229.82 238.23,228.92 239.4,228.8C240.57,228.68 241.73,230.02 242.9,229.7C244.07,229.38 245.25,227.93 246.4,226.9C247.55,225.87 248.65,224.18 249.8,223.5C250.95,222.82 252.13,222.42 253.3,222.8C254.47,223.18 255.63,226.08 256.8,225.8C257.97,225.52 259.35,222.65 260.3,221.1C261.25,219.55 261.72,217.85 262.5,216.5C263.28,215.15 264.23,213.7 265,213C265.77,212.3 266.38,211.62 267.1,212.3C267.82,212.98 268.5,215.43 269.3,217.1C270.1,218.77 271.08,221.82 271.9,222.3C272.72,222.78 273.43,221.55 274.2,220C274.97,218.45 275.7,216.77 276.5,213C277.3,209.23 278.22,201.45 279,197.4C279.78,193.35 280.48,190.85 281.2,188.7C281.92,186.55 282.75,185.5 283.3,184.5C283.85,183.5 283.97,182.87 284.5,182.7C285.03,182.53 285.85,183.05 286.5,183.5C287.15,183.95 287.75,184.55 288.4,185.4C289.05,186.25 289.67,185.72 290.4,188.6C291.13,191.48 292.07,198 292.8,202.7C293.53,207.4 294.1,211.53 294.8,216.8C295.5,222.07 296.27,229.38 297,234.3C297.73,239.22 298.1,243.02 299.2,246.3C300.3,249.58 301.97,252 303.6,254C305.23,256 307.18,257.77 309,258.3C310.82,258.83 312.67,257.92 314.5,257.2C316.33,256.48 318,254 320,254C322,254 324.92,255.78 326.5,257.2C328.08,258.62 328.42,261.62 329.5,262.5C330.58,263.38 331.83,262.62 333,262.5C334.17,262.38 335.35,261.85 336.5,261.8C337.65,261.75 338.75,262.58 339.9,262.2C341.05,261.82 342.23,260.07 343.4,259.5C344.57,258.93 345.73,259.2 346.9,258.8C348.07,258.4 349.35,257.38 350.4,257.1C351.45,256.82 352.23,256.7 353.2,257.1C354.17,257.5 355.12,258.65 356.2,259.5C357.28,260.35 358.53,261.52 359.7,262.2C360.87,262.88 362.03,263.2 363.2,263.6C364.37,264 365.55,264.78 366.7,264.6C367.85,264.42 369.17,263.02 370.1,262.5C371.03,261.98 371.93,261.67 372.3,261.5" fill="none" stroke="#7c7c7c" stroke-width="1" stroke-linejoin="round"/>
</g>
<clipPath id="c11"><rect x="225.5" y="163.2" width="147.1" height="114"/></clipPath>
<rect x="428.8" y="163.2" width="147.1" height="114" fill="none" stroke="#b0b0b0" stroke-width="1"/>
<line x1="432.48" y1="277.2" x2="432.48" y2="275.7" stroke="#b0b0b0" stroke-width="1"/>
<line x1="432.48" y1="163.2" x2="432.48" y2="164.7" stroke="#b0b0b0" stroke-width="1"/>
<line x1="437.44" y1="277.2" x2="437.44" y2="275.7" stroke="#b0b0b0" stroke-width="1"/>
<line x1="437.44" y1="163.2" x2="437.44" y2="164.7" stroke="#b0b0b0" stroke-width="1"/>
<line x1="442.4" y1="277.2" x2="442.4" y2="274.2" stroke="#b0b0b0" stroke-width="1"/>
<line x1="442.4" y1="163.2" x2="442.4" y2="166.2" stroke="#b0b0b0" stroke-width="1"/>
<line x1="447.36" y1="277.2" x2="447.36" y2="275.7" stroke="#b0b0b0" stroke-width="1"/>
<line x1="447.36" y1="163.2" x2="447.36" y2="164.7" stroke="#b0b0b0" stroke-width="1"/>
<line x1="452.32" y1="277.2" x2="452.32" y2="275.7" stroke="#b0b0b0" stroke-width="1"/>
<line x1="452.32" y1="163.2" x2="452.32" y2="164.7" stroke="#b0b0b0" stroke-width="1"/>
<line x1="457.28" y1="277.2" x2="457.28" y2="275.7" stroke="#b0b0b0" stroke-width="1"/>
<line x1="457.28" y1="163.2" x2="457.28" y2="164.7" stroke="#b0b0b0" stroke-width="1"/>
<line x1="462.24" y1="277.2" x2="462.24" y2="275.7" stroke="#b0b0b0" stroke-width="1"/>
<line x1="462.24" y1="163.2" x2="462.24" y2="164.7" stroke="#b0b0b0" stroke-width="1"/>
<line x1="467.2" y1="277.2" x2="467.2" y2="274.2" stroke="#b0b0b0" stroke-width="1"/>
<line x1="467.2" y1="163.2" x2="467.2" y2="166.2" stroke="#b0b0b0" stroke-width="1"/>
<line x1="472.16" y1="277.2" x2="472.16" y2="275.7" stroke="#b0b0b0" stroke-width="1"/>
<line x1="472.16" y1="163.2" x2="472.16" y2="164.7" stroke="#b0b0b0" stroke-width="1"/>
<line x1="477.12" y1="277.2" x2="477.12" y2="275.7" stroke="#b0b0b0" stroke-width="1"/>
<line x1="477.12" y1="163.2" x2="477.12" y2="164.7" stroke="#b0b0b0" stroke-width="1"/>
<line x1="482.08" y1="277.2" x2="482.08" y2="275.7" stroke="#b0b0b0" stroke-width="1"/>
<line x1="482.08" y1="163.2" x2="482.08" y2="164.7" stroke="#b0b0b0" stroke-width="1"/>
<line x1="487.04" y1="277.2" x2="487.04" y2="275.7" stroke="#b0b0b0" stroke-width="1"/>
<line x1="487.04" y1="163.2" x2="487.04" y2="164.7" stroke="#b0b0b0" stroke-width="1"/>
<line x1="492" y1="277.2" x2="492" y2="274.2" stroke="#b0b0b0" stroke-width="1"/>
<line x1="492" y1="163.2" x2="492" y2="166.2" stroke="#b0b0b0" stroke-width="1"/>
<line x1="496.96" y1="277.2" x2="496.96" y2="275.7" stroke="#b0b0b0" stroke-width="1"/>
<line x1="496.96" y1="163.2" x2="496.96" y2="164.7" stroke="#b0b0b0" stroke-width="1"/>
<line x1="501.92" y1="277.2" x2="501.92" y2="275.7" stroke="#b0b0b0" stroke-width="1"/>
<line x1="501.92" y1="163.2" x2="501.92" y2="164.7" stroke="#b0b0b0" stroke-width="1"/>
<line x1="506.88" y1="277.2" x2="506.88" y2="275.7" stroke="#b0b0b0" stroke-width="1"/>
<line x1="506.88" y1="163.2" x2="506.88" y2="164.7" stroke="#b0b0b0" stroke-width="1"/>
<line x1="511.84" y1="277.2" x2="511.84" y2="275.7" stroke="#b0b0b0" stroke-width="1"/>
<line x1="511.84" y1="163.2" x2="511.84" y2="164.7" stroke="#b0b0b0" stroke-width="1"/>
<line x1="516.8" y1="277.2" x2="516.8" y2="274.2" stroke="#b0b0b0" stroke-width="1"/>
<line x1="516.8" y1="163.2" x2="516.8" y2="166.2" stroke="#b0b0b0" stroke-width="1"/>
<line x1="521.76" y1="277.2" x2="521.76" y2="275.7" stroke="#b0b0b0" stroke-width="1"/>
<line x1="521.76" y1="163.2" x2="521.76" y2="164.7" stroke="#b0b0b0" stroke-width="1"/>
<line x1="526.72" y1="277.2" x2="526.72" y2="275.7" stroke="#b0b0b0" stroke-width="1"/>
<line x1="526.72" y1="163.2" x2="526.72" y2="164.7" stroke="#b0b0b0" stroke-width="1"/>
<line x1="531.68" y1="277.2" x2="531.68" y2="275.7" stroke="#b0b0b0" stroke-width="1"/>
<line x1="531.68" y1="163.2" x2="531.68" y2="164.7" stroke="#b0b0b0" stroke-width="1"/>
<line x1="536.64" y1="277.2" x2="536.64" y2="275.7" stroke="#b0b0b0" stroke-width="1"/>
<line x1="536.64" y1="163.2" x2="536.64" y2="164.7" stroke="#b0b0b0" stroke-width="1"/>
<line x1="541.6" y1="277.2" x2="541.6" y2="274.2" stroke="#b0b0b0" stroke-width="1"/>
<line x1="541.6" y1="163.2" x2="541.6" y2="166.2" stroke="#b0b0b0" stroke-width="1"/>
<line x1="546.56" y1="277.2" x2="546.56" y2="275.7" stroke="#b0b0b0" stroke-width="1"/>
<line x1="546.56" y1="163.2" x2="546.56" y2="164.7" stroke="#b0b0b0" stroke-width="1"/>
<line x1="551.52" y1="277.2" x2="551.52" y2="275.7" stroke="#b0b0b0" stroke-width="1"/>
<line x1="551.52" y1="163.2" x2="551.52" y2="164.7" stroke="#b0b0b0" stroke-width="1"/>
<line x1="556.48" y1="277.2" x2="556.48" y2="275.7" stroke="#b0b0b0" stroke-width="1"/>
<line x1="556.48" y1="163.2" x2="556.48" y2="164.7" stroke="#b0b0b0" stroke-width="1"/>
<line x1="561.44" y1="277.2" x2="561.44" y2="275.7" stroke="#b0b0b0" stroke-width="1"/>
<line x1="561.44" y1="163.2" x2="561.44" y2="164.7" stroke="#b0b0b0" stroke-width="1"/>
<line x1="566.4" y1="277.2" x2="566.4" y2="274.2" stroke="#b0b0b0" stroke-width="1"/>
<line x1="566.4" y1="163.2" x2="566.4" y2="166.2" stroke="#b0b0b0" stroke-width="1"/>
<line x1="571.36" y1="277.2" x2="571.36" y2="275.7" stroke="#b0b0b0" stroke-width="1"/>
<line x1="571.36" y1="163.2" x2="571.36" y2="164.7" stroke="#b0b0b0" stroke-width="1"/>
<text x="442.4" y="287.1" font-size="7.3" fill="#737373" text-anchor="middle">250</text>
<text x="467.2" y="287.1" font-size="7.3" fill="#737373" text-anchor="middle">300</text>
<text x="492" y="287.1" font-size="7.3" fill="#737373" text-anchor="middle">350</text>
<text x="516.8" y="287.1" font-size="7.3" fill="#737373" text-anchor="middle">400</text>
<text x="541.6" y="287.1" font-size="7.3" fill="#737373" text-anchor="middle">450</text>
<text x="566.4" y="287.1" font-size="7.3" fill="#737373" text-anchor="middle">500</text>
<text x="426.2" y="167.7" font-size="7.3" fill="#737373" text-anchor="end">14</text>
<text x="426.2" y="182.4" font-size="7.3" fill="#737373" text-anchor="end">12</text>
<text x="426.2" y="198" font-size="7.3" fill="#737373" text-anchor="end">10</text>
<text x="426.2" y="214.2" font-size="7.3" fill="#737373" text-anchor="end">8</text>
<text x="426.2" y="231.3" font-size="7.3" fill="#737373" text-anchor="end">6</text>
<text x="426.2" y="247.3" font-size="7.3" fill="#737373" text-anchor="end">4</text>
<text x="426.2" y="263.8" font-size="7.3" fill="#737373" text-anchor="end">2</text>
<text x="426.2" y="277.7" font-size="7.3" fill="#737373" text-anchor="end">0</text>
<line x1="428.8" y1="269.06" x2="430.3" y2="269.06" stroke="#b0b0b0" stroke-width="1"/>
<line x1="428.8" y1="260.91" x2="431.8" y2="260.91" stroke="#b0b0b0" stroke-width="1"/>
<line x1="428.8" y1="252.77" x2="430.3" y2="252.77" stroke="#b0b0b0" stroke-width="1"/>
<line x1="428.8" y1="244.63" x2="431.8" y2="244.63" stroke="#b0b0b0" stroke-width="1"/>
<line x1="428.8" y1="236.49" x2="430.3" y2="236.49" stroke="#b0b0b0" stroke-width="1"/>
<line x1="428.8" y1="228.34" x2="431.8" y2="228.34" stroke="#b0b0b0" stroke-width="1"/>
<line x1="428.8" y1="220.2" x2="430.3" y2="220.2" stroke="#b0b0b0" stroke-width="1"/>
<line x1="428.8" y1="212.06" x2="431.8" y2="212.06" stroke="#b0b0b0" stroke-width="1"/>
<line x1="428.8" y1="203.91" x2="430.3" y2="203.91" stroke="#b0b0b0" stroke-width="1"/>
<line x1="428.8" y1="195.77" x2="431.8" y2="195.77" stroke="#b0b0b0" stroke-width="1"/>
<line x1="428.8" y1="187.63" x2="430.3" y2="187.63" stroke="#b0b0b0" stroke-width="1"/>
<line x1="428.8" y1="179.49" x2="431.8" y2="179.49" stroke="#b0b0b0" stroke-width="1"/>
<line x1="428.8" y1="171.34" x2="430.3" y2="171.34" stroke="#b0b0b0" stroke-width="1"/>
<text x="577.5" y="174.7" font-size="7.3" fill="#737373" text-anchor="start">6</text>
<text x="577.5" y="192.2" font-size="7.3" fill="#737373" text-anchor="start">5</text>
<text x="577.5" y="209.8" font-size="7.3" fill="#737373" text-anchor="start">4</text>
<text x="577.5" y="227" font-size="7.3" fill="#737373" text-anchor="start">3</text>
<text x="577.5" y="244.5" font-size="7.3" fill="#737373" text-anchor="start">2</text>
<text x="577.5" y="262" font-size="7.3" fill="#737373" text-anchor="start">1</text>
<text x="577.5" y="277.8" font-size="7.3" fill="#737373" text-anchor="start">0</text>
<line x1="575.9" y1="268.43" x2="574.4" y2="268.43" stroke="#b0b0b0" stroke-width="1"/>
<line x1="575.9" y1="259.66" x2="572.9" y2="259.66" stroke="#b0b0b0" stroke-width="1"/>
<line x1="575.9" y1="250.89" x2="574.4" y2="250.89" stroke="#b0b0b0" stroke-width="1"/>
<line x1="575.9" y1="242.12" x2="572.9" y2="242.12" stroke="#b0b0b0" stroke-width="1"/>
<line x1="575.9" y1="233.35" x2="574.4" y2="233.35" stroke="#b0b0b0" stroke-width="1"/>
<line x1="575.9" y1="224.58" x2="572.9" y2="224.58" stroke="#b0b0b0" stroke-width="1"/>
<line x1="575.9" y1="215.82" x2="574.4" y2="215.82" stroke="#b0b0b0" stroke-width="1"/>
<line x1="575.9" y1="207.05" x2="572.9" y2="207.05" stroke="#b0b0b0" stroke-width="1"/>
<line x1="575.9" y1="198.28" x2="574.4" y2="198.28" stroke="#b0b0b0" stroke-width="1"/>
<line x1="575.9" y1="189.51" x2="572.9" y2="189.51" stroke="#b0b0b0" stroke-width="1"/>
<line x1="575.9" y1="180.74" x2="574.4" y2="180.74" stroke="#b0b0b0" stroke-width="1"/>
<line x1="575.9" y1="171.97" x2="572.9" y2="171.97" stroke="#b0b0b0" stroke-width="1"/>
<text x="421.7" y="159.7" font-size="8" fill="#737373" text-anchor="start" textLength="24.2" lengthAdjust="spacingAndGlyphs">Radial</text>
<text x="450" y="159.7" font-size="8" fill="#737373" text-anchor="start" textLength="15" lengthAdjust="spacingAndGlyphs">J/K</text>
<rect x="471" y="156.85" width="4.9" height="0.9" fill="#737373"/>
<text x="482.1" y="159.7" font-size="8" fill="#737373" text-anchor="start" textLength="15.9" lengthAdjust="spacingAndGlyphs">Flux</text>
<text x="501.7" y="159.7" font-size="8" fill="#737373" text-anchor="start" textLength="21.4" lengthAdjust="spacingAndGlyphs">Along</text>
<text x="528.3" y="159.7" font-size="8" fill="#737373" text-anchor="start" textLength="24.1" lengthAdjust="spacingAndGlyphs">Radial</text>
<text x="557.3" y="159.7" font-size="8" fill="#737373" text-anchor="start" textLength="24.8" lengthAdjust="spacingAndGlyphs">Profile</text>
<text x="461.6" y="295" font-size="7.2" fill="#737373" text-anchor="start" textLength="18.8" lengthAdjust="spacingAndGlyphs">Radial</text>
<text x="484.6" y="295" font-size="7.2" fill="#737373" text-anchor="start" textLength="27.3" lengthAdjust="spacingAndGlyphs">Distance</text>
<text x="515.6" y="295" font-size="7.2" fill="#737373" text-anchor="start" textLength="27" lengthAdjust="spacingAndGlyphs">(arcsec)</text>
<text transform="translate(411.1 258.7) rotate(-90)" font-size="6.9" fill="#737373" textLength="72.5" lengthAdjust="spacingAndGlyphs">Chandra 0.3&#8211;8.0 keV</text>
<text transform="translate(417.5 273) rotate(-90)" font-size="6.9" fill="#737373" textLength="106.2" lengthAdjust="spacingAndGlyphs">(Average Counts per Radial Bin)</text>
<text transform="translate(590.5 242.9) rotate(-90)" font-size="6.9" fill="#737373" textLength="41" lengthAdjust="spacingAndGlyphs">WISE 22 &#956;m</text>
<text transform="translate(597.1 241.9) rotate(-90)" font-size="6.9" fill="#737373" textLength="43.1" lengthAdjust="spacingAndGlyphs">(Significance)</text>
<polyline points="477.2,254.8 477.2,260.8 494,260.8 494,254.8" fill="none" stroke="#b0b0b0" stroke-width="1"/>
<polyline points="498.5,254.8 498.5,260.8 519.4,260.8 519.4,254.8" fill="none" stroke="#b0b0b0" stroke-width="1"/>
<text x="464.9" y="266.9" font-size="6.6" fill="#737373" text-anchor="start" textLength="21.6" lengthAdjust="spacingAndGlyphs">Region</text>
<text x="489.1" y="266.9" font-size="6.6" fill="#737373" text-anchor="start" textLength="4.9" lengthAdjust="spacingAndGlyphs">K</text>
<text x="498.5" y="266.9" font-size="6.6" fill="#737373" text-anchor="start" textLength="21.6" lengthAdjust="spacingAndGlyphs">Region</text>
<text x="522.7" y="266.9" font-size="6.6" fill="#737373" text-anchor="start" textLength="3.7" lengthAdjust="spacingAndGlyphs">J</text>
<g clip-path="url(#c12)">
<path d="M428.8,194.1C429.42,194.22 431.15,194.62 432.5,194.8C433.85,194.98 435.43,194.95 436.9,195.2C438.37,195.45 439.83,195.93 441.3,196.3C442.77,196.67 444.25,197.28 445.7,197.4C447.15,197.52 448.55,196.82 450,197C451.45,197.18 452.93,198.8 454.4,198.5C455.87,198.2 457.52,195.93 458.8,195.2C460.08,194.47 461.18,193.55 462.1,194.1C463.02,194.65 463.57,196.85 464.3,198.5C465.03,200.15 465.67,202.72 466.5,204C467.33,205.28 468.32,206.02 469.3,206.2C470.28,206.38 471.42,206.02 472.4,205.1C473.38,204.18 474.18,202.35 475.2,200.7C476.22,199.05 477.22,196.65 478.5,195.2C479.78,193.75 481.43,192.72 482.9,192C484.37,191.28 485.83,191.17 487.3,190.9C488.77,190.63 490.42,190.48 491.7,190.4C492.98,190.32 493.9,190.15 495,190.4C496.1,190.65 497.28,191.38 498.3,191.9C499.32,192.42 500.18,193.68 501.1,193.5C502.02,193.32 502.82,191.97 503.8,190.8C504.78,189.63 506.1,187.4 507,186.5C507.9,185.6 508.47,185.4 509.2,185.4C509.93,185.4 510.67,187.05 511.4,186.5C512.13,185.95 512.98,183.02 513.6,182.1C514.22,181.18 514.55,180.45 515.1,181C515.65,181.55 516.32,183.22 516.9,185.4C517.48,187.58 518.05,191.37 518.6,194.1C519.15,196.83 519.68,199.07 520.2,201.8C520.72,204.53 521.15,207.77 521.7,210.5C522.25,213.23 522.92,215.85 523.5,218.2C524.08,220.55 524.33,221.6 525.2,224.6C526.07,227.6 527.53,232.52 528.7,236.2C529.87,239.88 531.23,244.25 532.2,246.7C533.17,249.15 533.73,249.93 534.5,250.9C535.27,251.87 535.83,252.43 536.8,252.5C537.77,252.57 539.13,251.68 540.3,251.3C541.47,250.92 542.63,250.5 543.8,250.2C544.97,249.9 546.15,249.82 547.3,249.5C548.45,249.18 549.55,248.97 550.7,248.3C551.85,247.63 553.03,246.67 554.2,245.5C555.37,244.33 556.53,242.85 557.7,241.3C558.87,239.75 560.03,237.82 561.2,236.2C562.37,234.58 563.53,232.68 564.7,231.6C565.87,230.52 567.23,229.7 568.2,229.7C569.17,229.7 569.73,230.7 570.5,231.6C571.27,232.5 571.95,234.28 572.8,235.1C573.65,235.92 575.13,236.27 575.6,236.5" fill="none" stroke="#7c7c7c" stroke-width="1" stroke-linejoin="round" stroke-dasharray="4.6 4.6"/>
<path d="M428.8,243.2C429.4,243.12 431.22,243.08 432.4,242.7C433.58,242.32 434.73,241.98 435.9,240.9C437.07,239.82 438.32,237.37 439.4,236.2C440.48,235.03 441.43,233.7 442.4,233.9C443.37,234.1 444.15,236.05 445.2,237.4C446.25,238.75 447.53,241.42 448.7,242C449.87,242.58 451.05,241.55 452.2,240.9C453.35,240.25 454.45,238.88 455.6,238.1C456.75,237.32 457.93,236.13 459.1,236.2C460.27,236.27 461.52,237.72 462.6,238.5C463.68,239.28 464.63,241.67 465.6,240.9C466.57,240.13 467.55,236.62 468.4,233.9C469.25,231.18 469.92,227.7 470.7,224.6C471.48,221.5 472.23,219.1 473.1,215.3C473.97,211.5 475,206.05 475.9,201.8C476.8,197.55 477.7,193.27 478.5,189.8C479.3,186.33 480.03,182.83 480.7,181C481.37,179.17 481.95,178.98 482.5,178.8C483.05,178.62 483.38,178.62 484,179.9C484.62,181.18 485.47,183.77 486.2,186.5C486.93,189.23 487.67,193.02 488.4,196.3C489.13,199.58 489.87,203.33 490.6,206.2C491.33,209.07 492.07,211.57 492.8,213.5C493.53,215.43 494.22,216.67 495,217.8C495.78,218.93 496.7,220.02 497.5,220.3C498.3,220.58 499.13,219.47 499.8,219.5C500.47,219.53 500.95,219.83 501.5,220.5C502.05,221.17 502.25,222.35 503.1,223.5C503.95,224.65 505.63,226.52 506.6,227.4C507.57,228.28 508.12,229.27 508.9,228.8C509.68,228.33 510.6,225.38 511.3,224.6C512,223.82 512.53,223.52 513.1,224.1C513.67,224.68 514.03,225.3 514.7,228.1C515.37,230.9 516.32,236.83 517.1,240.9C517.88,244.97 518.63,249.4 519.4,252.5C520.17,255.6 520.73,257.57 521.7,259.5C522.67,261.43 524.03,262.95 525.2,264.1C526.37,265.25 527.53,265.82 528.7,266.4C529.87,266.98 531.05,267.6 532.2,267.6C533.35,267.6 534.45,266.78 535.6,266.4C536.75,266.02 537.93,265.6 539.1,265.3C540.27,265 541.43,264.6 542.6,264.6C543.77,264.6 544.93,265 546.1,265.3C547.27,265.6 548.43,266.02 549.6,266.4C550.77,266.78 551.93,267.4 553.1,267.6C554.27,267.8 555.45,267.52 556.6,267.6C557.75,267.68 558.85,267.92 560,268.1C561.15,268.28 562.33,268.48 563.5,268.7C564.67,268.92 565.83,269.12 567,269.4C568.17,269.68 569.33,270.12 570.5,270.4C571.67,270.68 573.15,270.92 574,271.1C574.85,271.28 575.33,271.43 575.6,271.5" fill="none" stroke="#7c7c7c" stroke-width="1" stroke-linejoin="round"/>
</g>
<clipPath id="c12"><rect x="428.8" y="163.2" width="147.1" height="114"/></clipPath>
</svg>
</body></html>
